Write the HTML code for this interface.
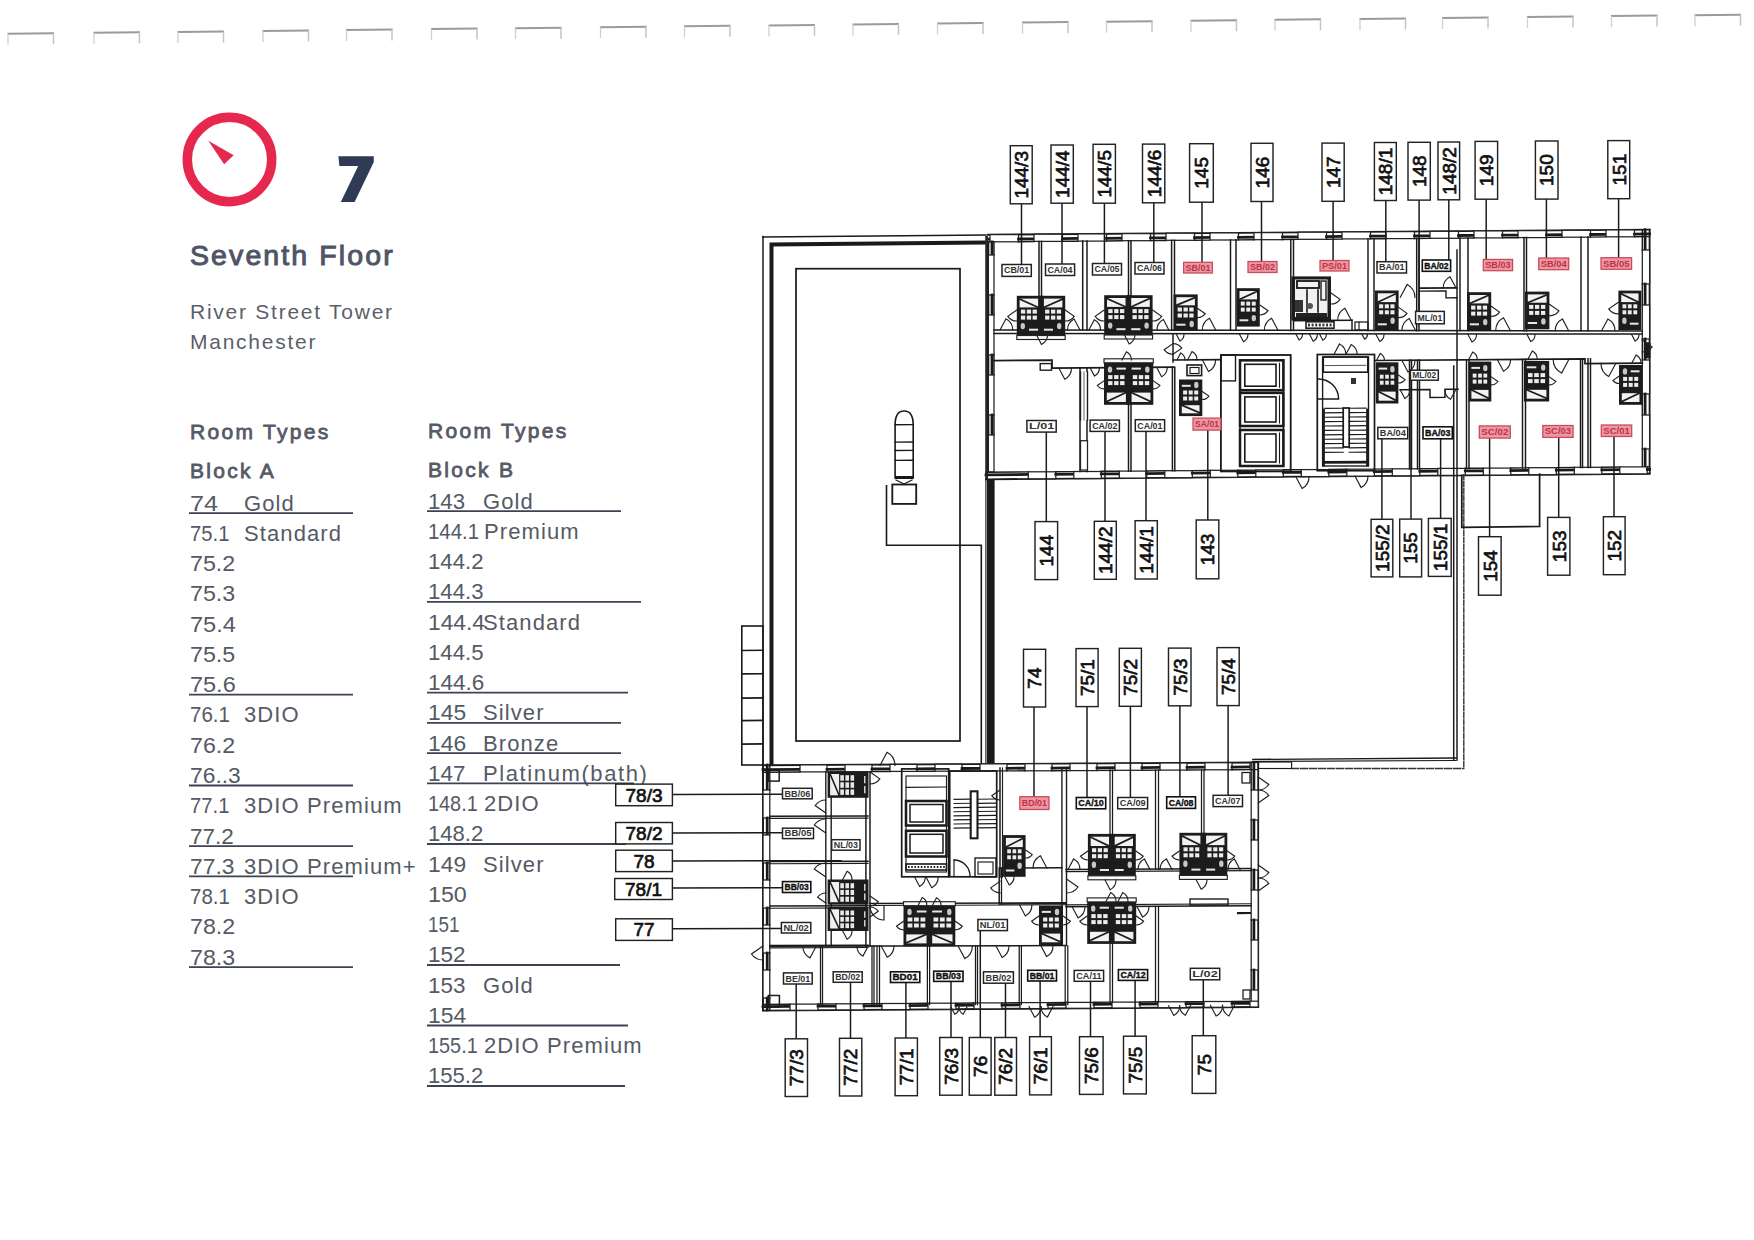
<!DOCTYPE html>
<html><head><meta charset="utf-8"><title>Seventh Floor</title><style>
html,body{margin:0;padding:0;background:#fff;width:1754px;height:1240px;overflow:hidden}
svg{position:absolute;left:0;top:0;display:block}
text{font-family:"Liberation Sans",sans-serif}
.lb{font-size:19px;fill:#111;stroke:#111;stroke-width:0.7px}
.h1{font-size:28.5px;font-weight:normal;fill:#4f5566;stroke:#4f5566;stroke-width:1.0px;letter-spacing:2.1px}
.h2{font-size:21px;fill:#5b5f69;letter-spacing:1.75px}
.lh{font-size:21px;font-weight:normal;fill:#555a66;stroke:#555a66;stroke-width:0.8px;letter-spacing:2.3px}
.lt{font-size:22px;fill:#555a64;letter-spacing:1.1px}
.ln{font-size:22px;fill:#555a64;letter-spacing:0px}
</style></head>
<body><svg width="1754" height="1240" viewBox="0 0 1754 1240">
<rect width="1754" height="1240" fill="#fff"/>
<line x1="7.5" y1="33.7" x2="54.0" y2="33.2" stroke="#9a9a9a" stroke-width="2"/>
<line x1="8.0" y1="33.7" x2="8.0" y2="44.7" stroke="#d0d0d0" stroke-width="1.3"/>
<line x1="53.5" y1="33.2" x2="53.5" y2="44.2" stroke="#c4c4c4" stroke-width="1.5"/>
<line x1="93.5" y1="32.8" x2="140.0" y2="32.3" stroke="#9a9a9a" stroke-width="2"/>
<line x1="94.0" y1="32.8" x2="94.0" y2="43.8" stroke="#d0d0d0" stroke-width="1.3"/>
<line x1="139.5" y1="32.3" x2="139.5" y2="43.3" stroke="#c4c4c4" stroke-width="1.5"/>
<line x1="177.5" y1="31.9" x2="224.0" y2="31.4" stroke="#9a9a9a" stroke-width="2"/>
<line x1="178.0" y1="31.9" x2="178.0" y2="42.9" stroke="#d0d0d0" stroke-width="1.3"/>
<line x1="223.5" y1="31.4" x2="223.5" y2="42.4" stroke="#c4c4c4" stroke-width="1.5"/>
<line x1="262.5" y1="30.9" x2="309.0" y2="30.4" stroke="#9a9a9a" stroke-width="2"/>
<line x1="263.0" y1="30.9" x2="263.0" y2="41.9" stroke="#d0d0d0" stroke-width="1.3"/>
<line x1="308.5" y1="30.4" x2="308.5" y2="41.4" stroke="#c4c4c4" stroke-width="1.5"/>
<line x1="346.0" y1="30.0" x2="392.5" y2="29.5" stroke="#9a9a9a" stroke-width="2"/>
<line x1="346.5" y1="30.0" x2="346.5" y2="41.0" stroke="#d0d0d0" stroke-width="1.3"/>
<line x1="392.0" y1="29.5" x2="392.0" y2="40.5" stroke="#c4c4c4" stroke-width="1.5"/>
<line x1="431.0" y1="29.1" x2="477.5" y2="28.6" stroke="#9a9a9a" stroke-width="2"/>
<line x1="431.5" y1="29.1" x2="431.5" y2="40.1" stroke="#d0d0d0" stroke-width="1.3"/>
<line x1="477.0" y1="28.6" x2="477.0" y2="39.6" stroke="#c4c4c4" stroke-width="1.5"/>
<line x1="515.0" y1="28.2" x2="561.5" y2="27.7" stroke="#9a9a9a" stroke-width="2"/>
<line x1="515.5" y1="28.2" x2="515.5" y2="39.2" stroke="#d0d0d0" stroke-width="1.3"/>
<line x1="561.0" y1="27.7" x2="561.0" y2="38.7" stroke="#c4c4c4" stroke-width="1.5"/>
<line x1="600.0" y1="27.2" x2="646.5" y2="26.7" stroke="#9a9a9a" stroke-width="2"/>
<line x1="600.5" y1="27.2" x2="600.5" y2="38.2" stroke="#d0d0d0" stroke-width="1.3"/>
<line x1="646.0" y1="26.7" x2="646.0" y2="37.7" stroke="#c4c4c4" stroke-width="1.5"/>
<line x1="684.0" y1="26.3" x2="730.5" y2="25.8" stroke="#9a9a9a" stroke-width="2"/>
<line x1="684.5" y1="26.3" x2="684.5" y2="37.3" stroke="#d0d0d0" stroke-width="1.3"/>
<line x1="730.0" y1="25.8" x2="730.0" y2="36.8" stroke="#c4c4c4" stroke-width="1.5"/>
<line x1="768.5" y1="25.4" x2="815.0" y2="24.9" stroke="#9a9a9a" stroke-width="2"/>
<line x1="769.0" y1="25.4" x2="769.0" y2="36.4" stroke="#d0d0d0" stroke-width="1.3"/>
<line x1="814.5" y1="24.9" x2="814.5" y2="35.9" stroke="#c4c4c4" stroke-width="1.5"/>
<line x1="852.5" y1="24.5" x2="899.0" y2="23.9" stroke="#9a9a9a" stroke-width="2"/>
<line x1="853.0" y1="24.5" x2="853.0" y2="35.5" stroke="#d0d0d0" stroke-width="1.3"/>
<line x1="898.5" y1="23.9" x2="898.5" y2="34.9" stroke="#c4c4c4" stroke-width="1.5"/>
<line x1="937.0" y1="23.5" x2="983.5" y2="23.0" stroke="#9a9a9a" stroke-width="2"/>
<line x1="937.5" y1="23.5" x2="937.5" y2="34.5" stroke="#d0d0d0" stroke-width="1.3"/>
<line x1="983.0" y1="23.0" x2="983.0" y2="34.0" stroke="#c4c4c4" stroke-width="1.5"/>
<line x1="1022.0" y1="22.6" x2="1068.5" y2="22.1" stroke="#9a9a9a" stroke-width="2"/>
<line x1="1022.5" y1="22.6" x2="1022.5" y2="33.6" stroke="#d0d0d0" stroke-width="1.3"/>
<line x1="1068.0" y1="22.1" x2="1068.0" y2="33.1" stroke="#c4c4c4" stroke-width="1.5"/>
<line x1="1106.0" y1="21.7" x2="1152.5" y2="21.2" stroke="#9a9a9a" stroke-width="2"/>
<line x1="1106.5" y1="21.7" x2="1106.5" y2="32.7" stroke="#d0d0d0" stroke-width="1.3"/>
<line x1="1152.0" y1="21.2" x2="1152.0" y2="32.2" stroke="#c4c4c4" stroke-width="1.5"/>
<line x1="1190.5" y1="20.7" x2="1237.0" y2="20.2" stroke="#9a9a9a" stroke-width="2"/>
<line x1="1191.0" y1="20.7" x2="1191.0" y2="31.7" stroke="#d0d0d0" stroke-width="1.3"/>
<line x1="1236.5" y1="20.2" x2="1236.5" y2="31.2" stroke="#c4c4c4" stroke-width="1.5"/>
<line x1="1274.5" y1="19.8" x2="1321.0" y2="19.3" stroke="#9a9a9a" stroke-width="2"/>
<line x1="1275.0" y1="19.8" x2="1275.0" y2="30.8" stroke="#d0d0d0" stroke-width="1.3"/>
<line x1="1320.5" y1="19.3" x2="1320.5" y2="30.3" stroke="#c4c4c4" stroke-width="1.5"/>
<line x1="1359.5" y1="18.9" x2="1406.0" y2="18.4" stroke="#9a9a9a" stroke-width="2"/>
<line x1="1360.0" y1="18.9" x2="1360.0" y2="29.9" stroke="#d0d0d0" stroke-width="1.3"/>
<line x1="1405.5" y1="18.4" x2="1405.5" y2="29.4" stroke="#c4c4c4" stroke-width="1.5"/>
<line x1="1442.0" y1="18.0" x2="1488.5" y2="17.5" stroke="#9a9a9a" stroke-width="2"/>
<line x1="1442.5" y1="18.0" x2="1442.5" y2="29.0" stroke="#d0d0d0" stroke-width="1.3"/>
<line x1="1488.0" y1="17.5" x2="1488.0" y2="28.5" stroke="#c4c4c4" stroke-width="1.5"/>
<line x1="1527.0" y1="17.0" x2="1573.5" y2="16.5" stroke="#9a9a9a" stroke-width="2"/>
<line x1="1527.5" y1="17.0" x2="1527.5" y2="28.0" stroke="#d0d0d0" stroke-width="1.3"/>
<line x1="1573.0" y1="16.5" x2="1573.0" y2="27.5" stroke="#c4c4c4" stroke-width="1.5"/>
<line x1="1611.0" y1="16.1" x2="1657.5" y2="15.6" stroke="#9a9a9a" stroke-width="2"/>
<line x1="1611.5" y1="16.1" x2="1611.5" y2="27.1" stroke="#d0d0d0" stroke-width="1.3"/>
<line x1="1657.0" y1="15.6" x2="1657.0" y2="26.6" stroke="#c4c4c4" stroke-width="1.5"/>
<line x1="1694.5" y1="15.2" x2="1741.0" y2="14.7" stroke="#9a9a9a" stroke-width="2"/>
<line x1="1695.0" y1="15.2" x2="1695.0" y2="26.2" stroke="#d0d0d0" stroke-width="1.3"/>
<line x1="1740.5" y1="14.7" x2="1740.5" y2="25.7" stroke="#c4c4c4" stroke-width="1.5"/>
<circle cx="229.5" cy="159.5" r="42.2" stroke="#e6284e" stroke-width="9.5" fill="none"/>
<polygon points="208.3,140.7 233.7,155.3 224.1,164.3" fill="#e4294d"/>
<polygon points="338.4,156.2 373.8,156.2 373.8,162 354.6,202 340.8,202 358.2,166 339.4,166" fill="#2f3a55"/>
<text x="190" y="265" class="h1">Seventh Floor</text>
<text x="190" y="319" class="h2">River Street Tower</text>
<text x="190" y="349" class="h2">Manchester</text>
<text x="190" y="439" class="lh">Room Types</text>
<text x="190" y="478" class="lh">Block A</text>
<text x="428" y="437.5" class="lh">Room Types</text>
<text x="428" y="476.5" class="lh">Block B</text>
<text x="190" y="510.5" class="ln" textLength="28.1" lengthAdjust="spacingAndGlyphs">74</text>
<text x="244" y="510.5" class="lt">Gold</text>
<line x1="189" y1="513.1" x2="353" y2="513.1" stroke="#3d4352" stroke-width="1.8"/>
<text x="190" y="540.8" class="ln" textLength="39.4" lengthAdjust="spacingAndGlyphs">75.1</text>
<text x="244" y="540.8" class="lt">Standard</text>
<text x="190" y="571.0" class="ln" textLength="45.2" lengthAdjust="spacingAndGlyphs">75.2</text>
<text x="190" y="601.3" class="ln" textLength="45.2" lengthAdjust="spacingAndGlyphs">75.3</text>
<text x="190" y="631.6" class="ln" textLength="45.9" lengthAdjust="spacingAndGlyphs">75.4</text>
<text x="190" y="661.9" class="ln" textLength="45.2" lengthAdjust="spacingAndGlyphs">75.5</text>
<text x="190" y="692.1" class="ln" textLength="45.7" lengthAdjust="spacingAndGlyphs">75.6</text>
<line x1="189" y1="694.7" x2="353" y2="694.7" stroke="#3d4352" stroke-width="1.8"/>
<text x="190" y="722.4" class="ln" textLength="39.9" lengthAdjust="spacingAndGlyphs">76.1</text>
<text x="244" y="722.4" class="lt">3DIO</text>
<text x="190" y="752.7" class="ln" textLength="45.2" lengthAdjust="spacingAndGlyphs">76.2</text>
<text x="190" y="782.9" class="ln" textLength="50.8" lengthAdjust="spacingAndGlyphs">76..3</text>
<line x1="189" y1="785.5" x2="353" y2="785.5" stroke="#3d4352" stroke-width="1.8"/>
<text x="190" y="813.2" class="ln" textLength="39.4" lengthAdjust="spacingAndGlyphs">77.1</text>
<text x="244" y="813.2" class="lt">3DIO Premium</text>
<text x="190" y="843.5" class="ln" textLength="43.8" lengthAdjust="spacingAndGlyphs">77.2</text>
<line x1="189" y1="846.1" x2="353" y2="846.1" stroke="#3d4352" stroke-width="1.8"/>
<text x="190" y="873.7" class="ln" textLength="44.5" lengthAdjust="spacingAndGlyphs">77.3</text>
<text x="244" y="873.7" class="lt">3DIO Premium+</text>
<line x1="189" y1="876.3" x2="353" y2="876.3" stroke="#3d4352" stroke-width="1.8"/>
<text x="190" y="904.0" class="ln" textLength="39.9" lengthAdjust="spacingAndGlyphs">78.1</text>
<text x="244" y="904.0" class="lt">3DIO</text>
<text x="190" y="934.3" class="ln" textLength="45.2" lengthAdjust="spacingAndGlyphs">78.2</text>
<text x="190" y="964.5" class="ln" textLength="45.2" lengthAdjust="spacingAndGlyphs">78.3</text>
<line x1="189" y1="967.1" x2="353" y2="967.1" stroke="#3d4352" stroke-width="1.8"/>
<text x="428" y="508.5" class="ln" textLength="37.0" lengthAdjust="spacingAndGlyphs">143</text>
<text x="483" y="508.5" class="lt">Gold</text>
<line x1="427" y1="511.1" x2="621" y2="511.1" stroke="#3d4352" stroke-width="1.8"/>
<text x="428" y="538.8" class="ln" textLength="51.0" lengthAdjust="spacingAndGlyphs">144.1</text>
<text x="484" y="538.8" class="lt">Premium</text>
<text x="428" y="569.0" class="ln" textLength="55.5" lengthAdjust="spacingAndGlyphs">144.2</text>
<text x="428" y="599.3" class="ln" textLength="55.5" lengthAdjust="spacingAndGlyphs">144.3</text>
<line x1="427" y1="601.9" x2="641" y2="601.9" stroke="#3d4352" stroke-width="1.8"/>
<text x="428" y="629.5" class="ln" textLength="56.9" lengthAdjust="spacingAndGlyphs">144.4</text>
<text x="483" y="629.5" class="lt">Standard</text>
<text x="428" y="659.8" class="ln" textLength="55.5" lengthAdjust="spacingAndGlyphs">144.5</text>
<text x="428" y="690.1" class="ln" textLength="56.2" lengthAdjust="spacingAndGlyphs">144.6</text>
<line x1="427" y1="692.7" x2="628" y2="692.7" stroke="#3d4352" stroke-width="1.8"/>
<text x="428" y="720.3" class="ln" textLength="38.1" lengthAdjust="spacingAndGlyphs">145</text>
<text x="483" y="720.3" class="lt">Silver</text>
<line x1="427" y1="722.9" x2="621" y2="722.9" stroke="#3d4352" stroke-width="1.8"/>
<text x="428" y="750.6" class="ln" textLength="38.1" lengthAdjust="spacingAndGlyphs">146</text>
<text x="483" y="750.6" class="lt">Bronze</text>
<line x1="427" y1="753.2" x2="621" y2="753.2" stroke="#3d4352" stroke-width="1.8"/>
<text x="428" y="780.8" class="ln" textLength="37.4" lengthAdjust="spacingAndGlyphs">147</text>
<text x="483" y="780.8" class="lt" style="letter-spacing:1.6px">Platinum(bath)</text>
<line x1="427" y1="783.4" x2="634" y2="783.4" stroke="#3d4352" stroke-width="1.8"/>
<text x="428" y="811.1" class="ln" textLength="49.7" lengthAdjust="spacingAndGlyphs">148.1</text>
<text x="484" y="811.1" class="lt">2DIO</text>
<text x="428" y="841.4" class="ln" textLength="55.3" lengthAdjust="spacingAndGlyphs">148.2</text>
<line x1="427" y1="844.0" x2="626" y2="844.0" stroke="#3d4352" stroke-width="1.8"/>
<text x="428" y="871.6" class="ln" textLength="38.1" lengthAdjust="spacingAndGlyphs">149</text>
<text x="483" y="871.6" class="lt">Silver</text>
<text x="428" y="901.9" class="ln" textLength="38.8" lengthAdjust="spacingAndGlyphs">150</text>
<text x="428" y="932.1" class="ln" textLength="31.5" lengthAdjust="spacingAndGlyphs">151</text>
<text x="428" y="962.4" class="ln" textLength="37.4" lengthAdjust="spacingAndGlyphs">152</text>
<line x1="427" y1="965.0" x2="620" y2="965.0" stroke="#3d4352" stroke-width="1.8"/>
<text x="428" y="992.7" class="ln" textLength="37.4" lengthAdjust="spacingAndGlyphs">153</text>
<text x="483" y="992.7" class="lt">Gold</text>
<text x="428" y="1022.9" class="ln" textLength="38.1" lengthAdjust="spacingAndGlyphs">154</text>
<line x1="427" y1="1025.5" x2="628" y2="1025.5" stroke="#3d4352" stroke-width="1.8"/>
<text x="428" y="1053.2" class="ln" textLength="49.7" lengthAdjust="spacingAndGlyphs">155.1</text>
<text x="484" y="1053.2" class="lt">2DIO Premium</text>
<text x="428" y="1083.4" class="ln" textLength="55.3" lengthAdjust="spacingAndGlyphs">155.2</text>
<line x1="427" y1="1086.0" x2="625" y2="1086.0" stroke="#3d4352" stroke-width="1.8"/>
<g stroke-linecap="square">
<line x1="763.0" y1="236.5" x2="763.0" y2="1010.5" stroke="#1a1a1a" stroke-width="1.49" />
<line x1="763.0" y1="237.0" x2="986.0" y2="235.0" stroke="#1a1a1a" stroke-width="1.61" />
<path d="M771.5,765 L771.5,244.4 L986,242.6" stroke="#1a1a1a" stroke-width="4" fill="none" stroke-linejoin="miter" stroke-linecap="butt"/>
<rect x="796.0" y="268.7" width="164.0" height="472.3" stroke="#1a1a1a" stroke-width="1.72" fill="none" />
<rect x="741.8" y="626.0" width="21.2" height="139.0" stroke="#1a1a1a" stroke-width="1.61" fill="none" />
<line x1="741.8" y1="650.5" x2="763.0" y2="650.3" stroke="#1a1a1a" stroke-width="1.61" />
<line x1="741.8" y1="673.9" x2="763.0" y2="673.7" stroke="#1a1a1a" stroke-width="1.61" />
<line x1="741.8" y1="698.1" x2="763.0" y2="697.9" stroke="#1a1a1a" stroke-width="1.61" />
<line x1="741.8" y1="720.6" x2="763.0" y2="720.4" stroke="#1a1a1a" stroke-width="1.61" />
<line x1="741.8" y1="744.1" x2="763.0" y2="743.9" stroke="#1a1a1a" stroke-width="1.61" />
<path d="M895.1,425 L895.1,478 L913.2,478 L913.2,425 Q913.2,411 904.1,411 Q895.1,411 895.1,425 Z" stroke="#1a1a1a" stroke-width="1.61" fill="none"/>
<line x1="895.1" y1="424.7" x2="913.2" y2="424.6" stroke="#1a1a1a" stroke-width="1.38" />
<line x1="895.1" y1="442.1" x2="913.2" y2="442.0" stroke="#1a1a1a" stroke-width="1.38" />
<line x1="895.1" y1="450.5" x2="913.2" y2="450.4" stroke="#1a1a1a" stroke-width="1.38" />
<line x1="895.1" y1="460.4" x2="913.2" y2="460.3" stroke="#1a1a1a" stroke-width="1.38" />
<rect x="895.1" y="476.0" width="18.1" height="3.0" stroke="none" stroke-width="0.00" fill="#1a1a1a" />
<rect x="892.3" y="484.5" width="23.9" height="19.4" stroke="#1a1a1a" stroke-width="1.84" fill="none" />
<line x1="896.0" y1="480.0" x2="904.0" y2="484.0" stroke="#1a1a1a" stroke-width="1.15" />
<line x1="912.0" y1="480.0" x2="904.0" y2="484.0" stroke="#1a1a1a" stroke-width="1.15" />
<path d="M886.5,485.8 L886.5,545.2 L981.3,545.2 L981.3,763.5" stroke="#1a1a1a" stroke-width="1.61" fill="none"/>
<rect x="987.0" y="479.0" width="7.6" height="286.0" stroke="none" stroke-width="0.00" fill="#1a1a1a" />
<line x1="985.9" y1="479.0" x2="985.9" y2="765.0" stroke="#1a1a1a" stroke-width="1.15" />
<line x1="988.0" y1="234.7" x2="1649.6" y2="229.7" stroke="#1a1a1a" stroke-width="1.84" />
<line x1="988.0" y1="239.2" x2="990.0" y2="239.2" stroke="#1a1a1a" stroke-width="2.76" />
<line x1="988.0" y1="241.9" x2="990.0" y2="241.9" stroke="#1a1a1a" stroke-width="1.38" />
<rect x="990.0" y="234.6" width="28.5" height="7.2" stroke="#222" stroke-width="1.26" fill="#fff" />
<line x1="1018.5" y1="239.0" x2="1034.0" y2="238.8" stroke="#1a1a1a" stroke-width="2.76" />
<line x1="1018.5" y1="241.7" x2="1034.0" y2="241.5" stroke="#1a1a1a" stroke-width="1.38" />
<rect x="1034.0" y="234.2" width="28.5" height="7.2" stroke="#222" stroke-width="1.26" fill="#fff" />
<line x1="1062.5" y1="238.6" x2="1078.0" y2="238.5" stroke="#1a1a1a" stroke-width="2.76" />
<line x1="1062.5" y1="241.3" x2="1078.0" y2="241.2" stroke="#1a1a1a" stroke-width="1.38" />
<rect x="1078.0" y="233.9" width="28.5" height="7.2" stroke="#222" stroke-width="1.26" fill="#fff" />
<line x1="1106.5" y1="238.3" x2="1122.0" y2="238.2" stroke="#1a1a1a" stroke-width="2.76" />
<line x1="1106.5" y1="241.0" x2="1122.0" y2="240.8" stroke="#1a1a1a" stroke-width="1.38" />
<rect x="1122.0" y="233.6" width="28.5" height="7.1" stroke="#222" stroke-width="1.26" fill="#fff" />
<line x1="1150.5" y1="237.9" x2="1166.0" y2="237.8" stroke="#1a1a1a" stroke-width="2.76" />
<line x1="1150.5" y1="240.6" x2="1166.0" y2="240.5" stroke="#1a1a1a" stroke-width="1.38" />
<rect x="1166.0" y="233.2" width="28.5" height="7.1" stroke="#222" stroke-width="1.26" fill="#fff" />
<line x1="1194.5" y1="237.6" x2="1210.0" y2="237.5" stroke="#1a1a1a" stroke-width="2.76" />
<line x1="1194.5" y1="240.2" x2="1210.0" y2="240.1" stroke="#1a1a1a" stroke-width="1.38" />
<rect x="1210.0" y="232.9" width="28.5" height="7.1" stroke="#222" stroke-width="1.26" fill="#fff" />
<line x1="1238.5" y1="237.3" x2="1254.0" y2="237.1" stroke="#1a1a1a" stroke-width="2.76" />
<line x1="1238.5" y1="239.9" x2="1254.0" y2="239.8" stroke="#1a1a1a" stroke-width="1.38" />
<rect x="1254.0" y="232.6" width="28.5" height="7.1" stroke="#222" stroke-width="1.26" fill="#fff" />
<line x1="1282.5" y1="236.9" x2="1298.0" y2="236.8" stroke="#1a1a1a" stroke-width="2.76" />
<line x1="1282.5" y1="239.5" x2="1298.0" y2="239.4" stroke="#1a1a1a" stroke-width="1.38" />
<rect x="1298.0" y="232.2" width="28.5" height="7.1" stroke="#222" stroke-width="1.26" fill="#fff" />
<line x1="1326.5" y1="236.6" x2="1342.0" y2="236.4" stroke="#1a1a1a" stroke-width="2.76" />
<line x1="1326.5" y1="239.2" x2="1342.0" y2="239.1" stroke="#1a1a1a" stroke-width="1.38" />
<rect x="1342.0" y="231.9" width="28.5" height="7.0" stroke="#222" stroke-width="1.26" fill="#fff" />
<line x1="1370.5" y1="236.2" x2="1386.0" y2="236.1" stroke="#1a1a1a" stroke-width="2.76" />
<line x1="1370.5" y1="238.8" x2="1386.0" y2="238.7" stroke="#1a1a1a" stroke-width="1.38" />
<rect x="1386.0" y="231.6" width="28.5" height="7.0" stroke="#222" stroke-width="1.26" fill="#fff" />
<line x1="1414.5" y1="235.9" x2="1430.0" y2="235.8" stroke="#1a1a1a" stroke-width="2.76" />
<line x1="1414.5" y1="238.5" x2="1430.0" y2="238.4" stroke="#1a1a1a" stroke-width="1.38" />
<rect x="1430.0" y="231.3" width="28.5" height="7.0" stroke="#222" stroke-width="1.26" fill="#fff" />
<line x1="1458.5" y1="235.5" x2="1474.0" y2="235.4" stroke="#1a1a1a" stroke-width="2.76" />
<line x1="1458.5" y1="238.1" x2="1474.0" y2="238.0" stroke="#1a1a1a" stroke-width="1.38" />
<rect x="1474.0" y="230.9" width="28.5" height="7.0" stroke="#222" stroke-width="1.26" fill="#fff" />
<line x1="1502.5" y1="235.2" x2="1518.0" y2="235.1" stroke="#1a1a1a" stroke-width="2.76" />
<line x1="1502.5" y1="237.8" x2="1518.0" y2="237.7" stroke="#1a1a1a" stroke-width="1.38" />
<rect x="1518.0" y="230.6" width="28.5" height="7.0" stroke="#222" stroke-width="1.26" fill="#fff" />
<line x1="1546.5" y1="234.9" x2="1562.0" y2="234.7" stroke="#1a1a1a" stroke-width="2.76" />
<line x1="1546.5" y1="237.4" x2="1562.0" y2="237.3" stroke="#1a1a1a" stroke-width="1.38" />
<rect x="1562.0" y="230.3" width="28.5" height="6.9" stroke="#222" stroke-width="1.26" fill="#fff" />
<line x1="1590.5" y1="234.5" x2="1606.0" y2="234.4" stroke="#1a1a1a" stroke-width="2.76" />
<line x1="1590.5" y1="237.1" x2="1606.0" y2="236.9" stroke="#1a1a1a" stroke-width="1.38" />
<rect x="1606.0" y="229.9" width="28.5" height="6.9" stroke="#222" stroke-width="1.26" fill="#fff" />
<line x1="1634.5" y1="234.2" x2="1649.6" y2="234.0" stroke="#1a1a1a" stroke-width="2.76" />
<line x1="1634.5" y1="236.7" x2="1649.6" y2="236.6" stroke="#1a1a1a" stroke-width="1.38" />
<rect x="985.2" y="236.0" width="2.8" height="243.0" stroke="none" stroke-width="0.00" fill="#2a2a2a" />
<line x1="988.4" y1="241.9" x2="988.4" y2="472.0" stroke="#1a1a1a" stroke-width="1.84" />
<line x1="992.0" y1="241.9" x2="992.0" y2="255.0" stroke="#1a1a1a" stroke-width="2.76" />
<line x1="994.0" y1="241.9" x2="994.0" y2="255.0" stroke="#1a1a1a" stroke-width="1.38" />
<rect x="988.4" y="255.0" width="5.6" height="40.0" stroke="#222" stroke-width="1.26" fill="#fff" />
<line x1="992.0" y1="295.0" x2="992.0" y2="315.0" stroke="#1a1a1a" stroke-width="2.76" />
<line x1="994.0" y1="295.0" x2="994.0" y2="315.0" stroke="#1a1a1a" stroke-width="1.38" />
<rect x="988.4" y="315.0" width="5.6" height="40.0" stroke="#222" stroke-width="1.26" fill="#fff" />
<line x1="992.0" y1="355.0" x2="992.0" y2="375.0" stroke="#1a1a1a" stroke-width="2.76" />
<line x1="994.0" y1="355.0" x2="994.0" y2="375.0" stroke="#1a1a1a" stroke-width="1.38" />
<rect x="988.4" y="375.0" width="5.6" height="40.0" stroke="#222" stroke-width="1.26" fill="#fff" />
<line x1="992.0" y1="415.0" x2="992.0" y2="435.0" stroke="#1a1a1a" stroke-width="2.76" />
<line x1="994.0" y1="415.0" x2="994.0" y2="435.0" stroke="#1a1a1a" stroke-width="1.38" />
<rect x="988.4" y="435.0" width="5.6" height="37.0" stroke="#222" stroke-width="1.26" fill="#fff" />
<line x1="1649.6" y1="229.7" x2="1649.6" y2="473.4" stroke="#1a1a1a" stroke-width="1.84" />
<line x1="1645.1" y1="229.7" x2="1645.1" y2="250.0" stroke="#1a1a1a" stroke-width="2.76" />
<line x1="1642.3" y1="229.7" x2="1642.3" y2="250.0" stroke="#1a1a1a" stroke-width="1.38" />
<rect x="1642.3" y="250.0" width="7.3" height="34.0" stroke="#222" stroke-width="1.26" fill="#fff" />
<line x1="1645.1" y1="284.0" x2="1645.1" y2="305.0" stroke="#1a1a1a" stroke-width="2.76" />
<line x1="1642.3" y1="284.0" x2="1642.3" y2="305.0" stroke="#1a1a1a" stroke-width="1.38" />
<rect x="1642.3" y="305.0" width="7.3" height="34.0" stroke="#222" stroke-width="1.26" fill="#fff" />
<line x1="1645.1" y1="339.0" x2="1645.1" y2="360.0" stroke="#1a1a1a" stroke-width="2.76" />
<line x1="1642.3" y1="339.0" x2="1642.3" y2="360.0" stroke="#1a1a1a" stroke-width="1.38" />
<rect x="1642.3" y="360.0" width="7.3" height="34.0" stroke="#222" stroke-width="1.26" fill="#fff" />
<line x1="1645.1" y1="394.0" x2="1645.1" y2="415.0" stroke="#1a1a1a" stroke-width="2.76" />
<line x1="1642.3" y1="394.0" x2="1642.3" y2="415.0" stroke="#1a1a1a" stroke-width="1.38" />
<rect x="1642.3" y="415.0" width="7.3" height="34.0" stroke="#222" stroke-width="1.26" fill="#fff" />
<line x1="1645.1" y1="449.0" x2="1645.1" y2="470.0" stroke="#1a1a1a" stroke-width="2.76" />
<line x1="1642.3" y1="449.0" x2="1642.3" y2="470.0" stroke="#1a1a1a" stroke-width="1.38" />
<rect x="1642.3" y="470.0" width="7.3" height="3.4" stroke="#222" stroke-width="1.26" fill="#fff" />
<rect x="1646.0" y="342.3" width="4.5" height="16.0" stroke="none" stroke-width="0.00" fill="#1a1a1a" />
<line x1="986.0" y1="479.3" x2="1649.6" y2="473.8" stroke="#1a1a1a" stroke-width="1.84" />
<line x1="986.0" y1="474.9" x2="1028.3" y2="474.5" stroke="#1a1a1a" stroke-width="2.76" />
<line x1="986.0" y1="472.3" x2="1028.3" y2="471.9" stroke="#1a1a1a" stroke-width="1.38" />
<rect x="1028.3" y="471.8" width="27.5" height="7.0" stroke="#222" stroke-width="1.26" fill="#fff" />
<line x1="1055.8" y1="474.3" x2="1073.8" y2="474.2" stroke="#1a1a1a" stroke-width="2.76" />
<line x1="1055.8" y1="471.7" x2="1073.8" y2="471.6" stroke="#1a1a1a" stroke-width="1.38" />
<rect x="1073.8" y="471.5" width="27.5" height="7.0" stroke="#222" stroke-width="1.26" fill="#fff" />
<line x1="1101.3" y1="473.9" x2="1119.3" y2="473.8" stroke="#1a1a1a" stroke-width="2.76" />
<line x1="1101.3" y1="471.3" x2="1119.3" y2="471.2" stroke="#1a1a1a" stroke-width="1.38" />
<rect x="1119.3" y="471.1" width="27.5" height="7.0" stroke="#222" stroke-width="1.26" fill="#fff" />
<line x1="1146.8" y1="473.6" x2="1164.8" y2="473.4" stroke="#1a1a1a" stroke-width="2.76" />
<line x1="1146.8" y1="471.0" x2="1164.8" y2="470.8" stroke="#1a1a1a" stroke-width="1.38" />
<rect x="1164.8" y="470.7" width="27.5" height="7.0" stroke="#222" stroke-width="1.26" fill="#fff" />
<line x1="1192.3" y1="473.2" x2="1210.3" y2="473.0" stroke="#1a1a1a" stroke-width="2.76" />
<line x1="1192.3" y1="470.6" x2="1210.3" y2="470.4" stroke="#1a1a1a" stroke-width="1.38" />
<rect x="1210.3" y="470.3" width="27.5" height="7.0" stroke="#222" stroke-width="1.26" fill="#fff" />
<line x1="1237.8" y1="472.8" x2="1255.8" y2="472.7" stroke="#1a1a1a" stroke-width="2.76" />
<line x1="1237.8" y1="470.2" x2="1255.8" y2="470.1" stroke="#1a1a1a" stroke-width="1.38" />
<rect x="1255.8" y="469.9" width="27.5" height="7.0" stroke="#222" stroke-width="1.26" fill="#fff" />
<line x1="1283.3" y1="472.4" x2="1301.3" y2="472.3" stroke="#1a1a1a" stroke-width="2.76" />
<line x1="1283.3" y1="469.8" x2="1301.3" y2="469.7" stroke="#1a1a1a" stroke-width="1.38" />
<rect x="1301.3" y="469.6" width="27.5" height="7.0" stroke="#222" stroke-width="1.26" fill="#fff" />
<line x1="1328.8" y1="472.1" x2="1346.8" y2="471.9" stroke="#1a1a1a" stroke-width="2.76" />
<line x1="1328.8" y1="469.5" x2="1346.8" y2="469.3" stroke="#1a1a1a" stroke-width="1.38" />
<rect x="1346.8" y="469.2" width="27.5" height="7.0" stroke="#222" stroke-width="1.26" fill="#fff" />
<line x1="1374.3" y1="471.7" x2="1392.3" y2="471.5" stroke="#1a1a1a" stroke-width="2.76" />
<line x1="1374.3" y1="469.1" x2="1392.3" y2="468.9" stroke="#1a1a1a" stroke-width="1.38" />
<rect x="1392.3" y="468.8" width="27.5" height="7.0" stroke="#222" stroke-width="1.26" fill="#fff" />
<line x1="1419.8" y1="471.3" x2="1437.8" y2="471.2" stroke="#1a1a1a" stroke-width="2.76" />
<line x1="1419.8" y1="468.7" x2="1437.8" y2="468.6" stroke="#1a1a1a" stroke-width="1.38" />
<rect x="1437.8" y="468.4" width="27.5" height="7.0" stroke="#222" stroke-width="1.26" fill="#fff" />
<line x1="1465.3" y1="470.9" x2="1483.3" y2="470.8" stroke="#1a1a1a" stroke-width="2.76" />
<line x1="1465.3" y1="468.3" x2="1483.3" y2="468.2" stroke="#1a1a1a" stroke-width="1.38" />
<rect x="1483.3" y="468.1" width="27.5" height="7.0" stroke="#222" stroke-width="1.26" fill="#fff" />
<line x1="1510.8" y1="470.6" x2="1528.8" y2="470.4" stroke="#1a1a1a" stroke-width="2.76" />
<line x1="1510.8" y1="468.0" x2="1528.8" y2="467.8" stroke="#1a1a1a" stroke-width="1.38" />
<rect x="1528.8" y="467.7" width="27.5" height="7.0" stroke="#222" stroke-width="1.26" fill="#fff" />
<line x1="1556.3" y1="470.2" x2="1574.3" y2="470.0" stroke="#1a1a1a" stroke-width="2.76" />
<line x1="1556.3" y1="467.6" x2="1574.3" y2="467.4" stroke="#1a1a1a" stroke-width="1.38" />
<rect x="1574.3" y="467.3" width="27.5" height="7.0" stroke="#222" stroke-width="1.26" fill="#fff" />
<line x1="1601.8" y1="469.8" x2="1619.8" y2="469.6" stroke="#1a1a1a" stroke-width="2.76" />
<line x1="1601.8" y1="467.2" x2="1619.8" y2="467.0" stroke="#1a1a1a" stroke-width="1.38" />
<rect x="1619.8" y="466.9" width="27.5" height="7.0" stroke="#222" stroke-width="1.26" fill="#fff" />
<line x1="1647.3" y1="469.4" x2="1649.6" y2="469.4" stroke="#1a1a1a" stroke-width="2.76" />
<line x1="1647.3" y1="466.8" x2="1649.6" y2="466.8" stroke="#1a1a1a" stroke-width="1.38" />
<line x1="1039.0" y1="241.4" x2="1039.0" y2="330.0" stroke="#1a1a1a" stroke-width="1.49" />
<line x1="1041.5" y1="241.4" x2="1041.5" y2="330.0" stroke="#1a1a1a" stroke-width="1.49" />
<line x1="1082.7" y1="241.0" x2="1082.7" y2="330.0" stroke="#1a1a1a" stroke-width="1.49" />
<line x1="1087.0" y1="241.0" x2="1087.0" y2="330.0" stroke="#1a1a1a" stroke-width="1.49" />
<line x1="1128.5" y1="240.7" x2="1128.5" y2="330.1" stroke="#1a1a1a" stroke-width="1.49" />
<line x1="1131.0" y1="240.7" x2="1131.0" y2="330.1" stroke="#1a1a1a" stroke-width="1.49" />
<line x1="1171.6" y1="240.3" x2="1171.6" y2="330.2" stroke="#1a1a1a" stroke-width="1.49" />
<line x1="1174.5" y1="240.3" x2="1174.5" y2="330.2" stroke="#1a1a1a" stroke-width="1.49" />
<line x1="1230.5" y1="239.9" x2="1230.5" y2="330.3" stroke="#1a1a1a" stroke-width="1.49" />
<line x1="1236.0" y1="239.8" x2="1236.0" y2="330.3" stroke="#1a1a1a" stroke-width="1.49" />
<line x1="1290.8" y1="239.4" x2="1290.8" y2="330.4" stroke="#1a1a1a" stroke-width="1.49" />
<line x1="1293.5" y1="239.4" x2="1293.5" y2="330.4" stroke="#1a1a1a" stroke-width="1.49" />
<line x1="1368.0" y1="238.8" x2="1368.0" y2="330.5" stroke="#1a1a1a" stroke-width="1.49" />
<line x1="1374.0" y1="238.7" x2="1374.0" y2="330.5" stroke="#1a1a1a" stroke-width="1.49" />
<line x1="1416.7" y1="238.4" x2="1416.7" y2="330.6" stroke="#1a1a1a" stroke-width="1.49" />
<line x1="1419.0" y1="238.3" x2="1419.0" y2="330.6" stroke="#1a1a1a" stroke-width="1.49" />
<line x1="1460.0" y1="238.0" x2="1460.0" y2="330.6" stroke="#1a1a1a" stroke-width="1.49" />
<line x1="1468.0" y1="238.0" x2="1468.0" y2="330.6" stroke="#1a1a1a" stroke-width="1.49" />
<line x1="1524.0" y1="237.5" x2="1524.0" y2="330.7" stroke="#1a1a1a" stroke-width="1.49" />
<line x1="1526.5" y1="237.5" x2="1526.5" y2="330.7" stroke="#1a1a1a" stroke-width="1.49" />
<line x1="1581.0" y1="237.1" x2="1581.0" y2="330.8" stroke="#1a1a1a" stroke-width="1.49" />
<line x1="1588.0" y1="237.0" x2="1588.0" y2="330.8" stroke="#1a1a1a" stroke-width="1.49" />
<line x1="994.0" y1="329.9" x2="1642.3" y2="330.9" stroke="#1a1a1a" stroke-width="1.49" />
<line x1="994.0" y1="333.5" x2="1642.3" y2="334.1" stroke="#1a1a1a" stroke-width="1.49" />
<path d="M994,360.6 L1052,360.2 L1052,368.2 L1173.6,367.2" stroke="#1a1a1a" stroke-width="1.72" fill="none"/>
<path d="M1173.6,360.0 L1220.9,359.6" stroke="#1a1a1a" stroke-width="1.72" fill="none"/>
<path d="M1375,360.5 L1585,358.8 L1585,363.6 L1642.3,363.2" stroke="#1a1a1a" stroke-width="1.72" fill="none"/>
<line x1="1080.0" y1="368.0" x2="1080.0" y2="471.6" stroke="#1a1a1a" stroke-width="1.49" />
<line x1="1087.0" y1="367.9" x2="1087.0" y2="471.5" stroke="#1a1a1a" stroke-width="1.49" />
<line x1="1128.5" y1="367.6" x2="1128.5" y2="471.2" stroke="#1a1a1a" stroke-width="1.49" />
<line x1="1131.0" y1="367.6" x2="1131.0" y2="471.2" stroke="#1a1a1a" stroke-width="1.49" />
<line x1="1172.4" y1="367.2" x2="1172.4" y2="470.8" stroke="#1a1a1a" stroke-width="1.49" />
<line x1="1174.8" y1="367.2" x2="1174.8" y2="470.8" stroke="#1a1a1a" stroke-width="1.49" />
<line x1="1409.5" y1="360.2" x2="1409.5" y2="468.9" stroke="#1a1a1a" stroke-width="1.49" />
<line x1="1411.5" y1="360.2" x2="1411.5" y2="468.9" stroke="#1a1a1a" stroke-width="1.49" />
<line x1="1417.5" y1="360.2" x2="1417.5" y2="468.9" stroke="#1a1a1a" stroke-width="1.49" />
<line x1="1419.5" y1="360.1" x2="1419.5" y2="468.8" stroke="#1a1a1a" stroke-width="1.49" />
<line x1="1466.5" y1="359.8" x2="1466.5" y2="468.5" stroke="#1a1a1a" stroke-width="1.49" />
<line x1="1469.0" y1="359.7" x2="1469.0" y2="468.4" stroke="#1a1a1a" stroke-width="1.49" />
<line x1="1522.5" y1="359.3" x2="1522.5" y2="468.0" stroke="#1a1a1a" stroke-width="1.49" />
<line x1="1525.5" y1="359.3" x2="1525.5" y2="468.0" stroke="#1a1a1a" stroke-width="1.49" />
<line x1="1580.5" y1="358.9" x2="1580.5" y2="467.6" stroke="#1a1a1a" stroke-width="1.49" />
<line x1="1582.5" y1="358.8" x2="1582.5" y2="467.5" stroke="#1a1a1a" stroke-width="1.49" />
<line x1="1588.0" y1="358.8" x2="1588.0" y2="467.5" stroke="#1a1a1a" stroke-width="1.49" />
<line x1="1590.5" y1="358.8" x2="1590.5" y2="467.5" stroke="#1a1a1a" stroke-width="1.49" />
<rect x="1040.2" y="363.6" width="11.3" height="6.6" stroke="#1a1a1a" stroke-width="1.38" fill="none" />
<rect x="1080.5" y="440.7" width="7.0" height="29.3" stroke="#222" stroke-width="1.26" fill="#fff" />
<rect x="1080.5" y="372.0" width="7.0" height="48.0" stroke="none" stroke-width="0.00" fill="#fff" />
<line x1="1080.5" y1="372.0" x2="1080.5" y2="420.0" stroke="#1a1a1a" stroke-width="1.38" />
<line x1="1087.5" y1="372.0" x2="1087.5" y2="420.0" stroke="#1a1a1a" stroke-width="1.38" />
<line x1="1084.0" y1="372.0" x2="1084.0" y2="420.0" stroke="#555" stroke-width="0.92" />
<line x1="1453.7" y1="366.0" x2="1453.7" y2="760.0" stroke="#1a1a1a" stroke-width="1.49" />
<line x1="1457.0" y1="250.0" x2="1457.0" y2="760.0" stroke="#1a1a1a" stroke-width="1.49" />
<rect x="1220.9" y="355.0" width="69.8" height="116.4" stroke="#1a1a1a" stroke-width="1.84" fill="none" />
<rect x="1221.0" y="355.0" width="14.5" height="25.9" stroke="#1a1a1a" stroke-width="1.38" fill="none" />
<rect x="1240.0" y="360.3" width="43.4" height="105.7" stroke="#1a1a1a" stroke-width="1.61" fill="none" />
<rect x="1240.0" y="360.3" width="43.4" height="29.9" stroke="#1a1a1a" stroke-width="2.53" fill="none" />
<rect x="1244.8" y="364.3" width="31.2" height="21.9" stroke="#1a1a1a" stroke-width="1.61" fill="none" />
<line x1="1279.5" y1="363.3" x2="1279.5" y2="387.2" stroke="#1a1a1a" stroke-width="1.15" />
<rect x="1240.0" y="392.9" width="43.4" height="33.1" stroke="#1a1a1a" stroke-width="2.53" fill="none" />
<rect x="1244.8" y="396.9" width="31.2" height="25.1" stroke="#1a1a1a" stroke-width="1.61" fill="none" />
<line x1="1279.5" y1="395.9" x2="1279.5" y2="423.0" stroke="#1a1a1a" stroke-width="1.15" />
<rect x="1240.0" y="430.0" width="43.4" height="36.0" stroke="#1a1a1a" stroke-width="2.53" fill="none" />
<rect x="1244.8" y="434.0" width="31.2" height="28.0" stroke="#1a1a1a" stroke-width="1.61" fill="none" />
<line x1="1279.5" y1="433.0" x2="1279.5" y2="463.0" stroke="#1a1a1a" stroke-width="1.15" />
<rect x="1317.3" y="354.5" width="57.2" height="116.2" stroke="#1a1a1a" stroke-width="1.72" fill="none" />
<rect x="1322.6" y="357.0" width="45.9" height="109.0" stroke="#1a1a1a" stroke-width="1.38" fill="none" />
<rect x="1323.3" y="357.0" width="44.5" height="15.2" stroke="#1a1a1a" stroke-width="1.61" fill="none" />
<line x1="1325.0" y1="365.6" x2="1366.0" y2="365.3" stroke="#444" stroke-width="0.92" />
<line x1="1325.0" y1="408.4" x2="1343.2" y2="408.3" stroke="#1a1a1a" stroke-width="1.15" />
<line x1="1349.2" y1="408.2" x2="1366.0" y2="408.1" stroke="#1a1a1a" stroke-width="1.15" />
<line x1="1325.0" y1="412.8" x2="1343.2" y2="412.7" stroke="#1a1a1a" stroke-width="1.15" />
<line x1="1349.2" y1="412.6" x2="1366.0" y2="412.5" stroke="#1a1a1a" stroke-width="1.15" />
<line x1="1325.0" y1="417.2" x2="1343.2" y2="417.1" stroke="#1a1a1a" stroke-width="1.15" />
<line x1="1349.2" y1="417.0" x2="1366.0" y2="416.9" stroke="#1a1a1a" stroke-width="1.15" />
<line x1="1325.0" y1="421.6" x2="1343.2" y2="421.5" stroke="#1a1a1a" stroke-width="1.15" />
<line x1="1349.2" y1="421.4" x2="1366.0" y2="421.3" stroke="#1a1a1a" stroke-width="1.15" />
<line x1="1325.0" y1="426.0" x2="1343.2" y2="425.9" stroke="#1a1a1a" stroke-width="1.15" />
<line x1="1349.2" y1="425.8" x2="1366.0" y2="425.7" stroke="#1a1a1a" stroke-width="1.15" />
<line x1="1325.0" y1="430.4" x2="1343.2" y2="430.3" stroke="#1a1a1a" stroke-width="1.15" />
<line x1="1349.2" y1="430.2" x2="1366.0" y2="430.1" stroke="#1a1a1a" stroke-width="1.15" />
<line x1="1325.0" y1="434.8" x2="1343.2" y2="434.7" stroke="#1a1a1a" stroke-width="1.15" />
<line x1="1349.2" y1="434.6" x2="1366.0" y2="434.5" stroke="#1a1a1a" stroke-width="1.15" />
<line x1="1325.0" y1="439.2" x2="1343.2" y2="439.1" stroke="#1a1a1a" stroke-width="1.15" />
<line x1="1349.2" y1="439.0" x2="1366.0" y2="438.9" stroke="#1a1a1a" stroke-width="1.15" />
<line x1="1325.0" y1="443.6" x2="1343.2" y2="443.5" stroke="#1a1a1a" stroke-width="1.15" />
<line x1="1349.2" y1="443.4" x2="1366.0" y2="443.3" stroke="#1a1a1a" stroke-width="1.15" />
<line x1="1325.0" y1="448.0" x2="1343.2" y2="447.9" stroke="#1a1a1a" stroke-width="1.15" />
<line x1="1349.2" y1="447.8" x2="1366.0" y2="447.7" stroke="#1a1a1a" stroke-width="1.15" />
<line x1="1325.0" y1="452.4" x2="1343.2" y2="452.3" stroke="#1a1a1a" stroke-width="1.15" />
<line x1="1349.2" y1="452.2" x2="1366.0" y2="452.1" stroke="#1a1a1a" stroke-width="1.15" />
<rect x="1343.2" y="408.0" width="6.0" height="39.0" stroke="#1a1a1a" stroke-width="1.72" fill="none" />
<line x1="1323.5" y1="410.0" x2="1323.5" y2="465.0" stroke="#1a1a1a" stroke-width="2.76" />
<line x1="1367.5" y1="410.0" x2="1367.5" y2="465.0" stroke="#1a1a1a" stroke-width="2.76" />
<line x1="1323.5" y1="462.4" x2="1367.5" y2="462.1" stroke="#1a1a1a" stroke-width="2.76" />
<path d="M1318.6,379 A20,20 0 0 1 1338.6,399 L1318.6,399" stroke="#1a1a1a" stroke-width="1.38" fill="none"/>
<rect x="1351.0" y="378.0" width="5.0" height="6.0" stroke="none" stroke-width="0.00" fill="#333" />
<line x1="1463.8" y1="474.8" x2="1463.8" y2="768.5" stroke="#333" stroke-width="1.4" stroke-dasharray="5,2"/>
<line x1="1291.6" y1="768.5" x2="1463.8" y2="768.5" stroke="#333" stroke-width="1.4" stroke-dasharray="7,2"/>
<line x1="1252.9" y1="759.5" x2="1456.0" y2="758.0" stroke="#1a1a1a" stroke-width="1.49" />
<line x1="1252.9" y1="761.5" x2="1456.0" y2="760.5" stroke="#1a1a1a" stroke-width="1.15" />
<rect x="1257.7" y="762.0" width="33.9" height="6.5" stroke="#1a1a1a" stroke-width="1.15" fill="none" />
<path d="M1461.8,475.3 L1461.8,527.3 L1539.6,526.5 L1539.6,474.2" stroke="#1a1a1a" stroke-width="1.72" fill="none"/>
<line x1="763.0" y1="765.2" x2="1258.2" y2="762.5" stroke="#1a1a1a" stroke-width="1.84" />
<line x1="763.0" y1="769.6" x2="800.0" y2="769.4" stroke="#1a1a1a" stroke-width="2.76" />
<line x1="763.0" y1="772.2" x2="800.0" y2="772.0" stroke="#1a1a1a" stroke-width="1.38" />
<rect x="800.0" y="764.9" width="27.0" height="7.0" stroke="#222" stroke-width="1.26" fill="#fff" />
<line x1="827.0" y1="769.3" x2="845.0" y2="769.2" stroke="#1a1a1a" stroke-width="2.76" />
<line x1="827.0" y1="771.9" x2="845.0" y2="771.8" stroke="#1a1a1a" stroke-width="1.38" />
<rect x="845.0" y="764.7" width="27.0" height="7.0" stroke="#222" stroke-width="1.26" fill="#fff" />
<line x1="872.0" y1="769.0" x2="890.0" y2="768.9" stroke="#1a1a1a" stroke-width="2.76" />
<line x1="872.0" y1="771.6" x2="890.0" y2="771.5" stroke="#1a1a1a" stroke-width="1.38" />
<rect x="890.0" y="764.4" width="27.0" height="7.0" stroke="#222" stroke-width="1.26" fill="#fff" />
<line x1="917.0" y1="768.8" x2="935.0" y2="768.7" stroke="#1a1a1a" stroke-width="2.76" />
<line x1="917.0" y1="771.4" x2="935.0" y2="771.3" stroke="#1a1a1a" stroke-width="1.38" />
<rect x="935.0" y="764.2" width="27.0" height="7.0" stroke="#222" stroke-width="1.26" fill="#fff" />
<line x1="962.0" y1="768.5" x2="980.0" y2="768.4" stroke="#1a1a1a" stroke-width="2.76" />
<line x1="962.0" y1="771.2" x2="980.0" y2="771.1" stroke="#1a1a1a" stroke-width="1.38" />
<rect x="980.0" y="763.9" width="27.0" height="7.0" stroke="#222" stroke-width="1.26" fill="#fff" />
<line x1="1007.0" y1="768.3" x2="1025.0" y2="768.2" stroke="#1a1a1a" stroke-width="2.76" />
<line x1="1007.0" y1="770.9" x2="1025.0" y2="770.8" stroke="#1a1a1a" stroke-width="1.38" />
<rect x="1025.0" y="763.7" width="27.0" height="7.1" stroke="#222" stroke-width="1.26" fill="#fff" />
<line x1="1052.0" y1="768.1" x2="1070.0" y2="768.0" stroke="#1a1a1a" stroke-width="2.76" />
<line x1="1052.0" y1="770.7" x2="1070.0" y2="770.6" stroke="#1a1a1a" stroke-width="1.38" />
<rect x="1070.0" y="763.5" width="27.0" height="7.1" stroke="#222" stroke-width="1.26" fill="#fff" />
<line x1="1097.0" y1="767.8" x2="1115.0" y2="767.7" stroke="#1a1a1a" stroke-width="2.76" />
<line x1="1097.0" y1="770.4" x2="1115.0" y2="770.4" stroke="#1a1a1a" stroke-width="1.38" />
<rect x="1115.0" y="763.2" width="27.0" height="7.1" stroke="#222" stroke-width="1.26" fill="#fff" />
<line x1="1142.0" y1="767.6" x2="1160.0" y2="767.5" stroke="#1a1a1a" stroke-width="2.76" />
<line x1="1142.0" y1="770.2" x2="1160.0" y2="770.1" stroke="#1a1a1a" stroke-width="1.38" />
<rect x="1160.0" y="763.0" width="27.0" height="7.1" stroke="#222" stroke-width="1.26" fill="#fff" />
<line x1="1187.0" y1="767.3" x2="1205.0" y2="767.2" stroke="#1a1a1a" stroke-width="2.76" />
<line x1="1187.0" y1="770.0" x2="1205.0" y2="769.9" stroke="#1a1a1a" stroke-width="1.38" />
<rect x="1205.0" y="762.7" width="27.0" height="7.1" stroke="#222" stroke-width="1.26" fill="#fff" />
<line x1="1232.0" y1="767.1" x2="1250.0" y2="767.0" stroke="#1a1a1a" stroke-width="2.76" />
<line x1="1232.0" y1="769.7" x2="1250.0" y2="769.6" stroke="#1a1a1a" stroke-width="1.38" />
<rect x="1250.0" y="762.5" width="8.2" height="7.1" stroke="#222" stroke-width="1.26" fill="#fff" />
<line x1="763.0" y1="765.0" x2="763.0" y2="1010.0" stroke="#1a1a1a" stroke-width="1.84" />
<line x1="767.2" y1="765.0" x2="767.2" y2="790.0" stroke="#1a1a1a" stroke-width="2.76" />
<line x1="769.8" y1="765.0" x2="769.8" y2="790.0" stroke="#1a1a1a" stroke-width="1.38" />
<rect x="763.0" y="790.0" width="6.8" height="28.0" stroke="#222" stroke-width="1.26" fill="#fff" />
<line x1="767.2" y1="818.0" x2="767.2" y2="835.0" stroke="#1a1a1a" stroke-width="2.76" />
<line x1="769.8" y1="818.0" x2="769.8" y2="835.0" stroke="#1a1a1a" stroke-width="1.38" />
<rect x="763.0" y="835.0" width="6.8" height="28.0" stroke="#222" stroke-width="1.26" fill="#fff" />
<line x1="767.2" y1="863.0" x2="767.2" y2="880.0" stroke="#1a1a1a" stroke-width="2.76" />
<line x1="769.8" y1="863.0" x2="769.8" y2="880.0" stroke="#1a1a1a" stroke-width="1.38" />
<rect x="763.0" y="880.0" width="6.8" height="28.0" stroke="#222" stroke-width="1.26" fill="#fff" />
<line x1="767.2" y1="908.0" x2="767.2" y2="925.0" stroke="#1a1a1a" stroke-width="2.76" />
<line x1="769.8" y1="908.0" x2="769.8" y2="925.0" stroke="#1a1a1a" stroke-width="1.38" />
<rect x="763.0" y="925.0" width="6.8" height="28.0" stroke="#222" stroke-width="1.26" fill="#fff" />
<line x1="767.2" y1="953.0" x2="767.2" y2="970.0" stroke="#1a1a1a" stroke-width="2.76" />
<line x1="769.8" y1="953.0" x2="769.8" y2="970.0" stroke="#1a1a1a" stroke-width="1.38" />
<rect x="763.0" y="970.0" width="6.8" height="28.0" stroke="#222" stroke-width="1.26" fill="#fff" />
<line x1="767.2" y1="998.0" x2="767.2" y2="1010.0" stroke="#1a1a1a" stroke-width="2.76" />
<line x1="769.8" y1="998.0" x2="769.8" y2="1010.0" stroke="#1a1a1a" stroke-width="1.38" />
<line x1="1258.2" y1="762.5" x2="1258.2" y2="1007.0" stroke="#1a1a1a" stroke-width="1.84" />
<line x1="1253.9" y1="762.5" x2="1253.9" y2="790.0" stroke="#1a1a1a" stroke-width="2.76" />
<line x1="1251.2" y1="762.5" x2="1251.2" y2="790.0" stroke="#1a1a1a" stroke-width="1.38" />
<rect x="1251.2" y="790.0" width="7.0" height="30.0" stroke="#222" stroke-width="1.26" fill="#fff" />
<line x1="1253.9" y1="820.0" x2="1253.9" y2="840.0" stroke="#1a1a1a" stroke-width="2.76" />
<line x1="1251.2" y1="820.0" x2="1251.2" y2="840.0" stroke="#1a1a1a" stroke-width="1.38" />
<rect x="1251.2" y="840.0" width="7.0" height="30.0" stroke="#222" stroke-width="1.26" fill="#fff" />
<line x1="1253.9" y1="870.0" x2="1253.9" y2="890.0" stroke="#1a1a1a" stroke-width="2.76" />
<line x1="1251.2" y1="870.0" x2="1251.2" y2="890.0" stroke="#1a1a1a" stroke-width="1.38" />
<rect x="1251.2" y="890.0" width="7.0" height="30.0" stroke="#222" stroke-width="1.26" fill="#fff" />
<line x1="1253.9" y1="920.0" x2="1253.9" y2="940.0" stroke="#1a1a1a" stroke-width="2.76" />
<line x1="1251.2" y1="920.0" x2="1251.2" y2="940.0" stroke="#1a1a1a" stroke-width="1.38" />
<rect x="1251.2" y="940.0" width="7.0" height="30.0" stroke="#222" stroke-width="1.26" fill="#fff" />
<line x1="1253.9" y1="970.0" x2="1253.9" y2="990.0" stroke="#1a1a1a" stroke-width="2.76" />
<line x1="1251.2" y1="970.0" x2="1251.2" y2="990.0" stroke="#1a1a1a" stroke-width="1.38" />
<rect x="1251.2" y="990.0" width="7.0" height="17.0" stroke="#222" stroke-width="1.26" fill="#fff" />
<line x1="763.0" y1="1010.6" x2="1258.2" y2="1007.0" stroke="#1a1a1a" stroke-width="1.84" />
<line x1="763.0" y1="1006.6" x2="790.0" y2="1006.4" stroke="#1a1a1a" stroke-width="2.76" />
<line x1="763.0" y1="1004.4" x2="790.0" y2="1004.2" stroke="#1a1a1a" stroke-width="1.38" />
<rect x="790.0" y="1004.1" width="28.0" height="6.2" stroke="#222" stroke-width="1.26" fill="#fff" />
<line x1="818.0" y1="1006.2" x2="836.0" y2="1006.1" stroke="#1a1a1a" stroke-width="2.76" />
<line x1="818.0" y1="1004.0" x2="836.0" y2="1003.9" stroke="#1a1a1a" stroke-width="1.38" />
<rect x="836.0" y="1003.8" width="28.0" height="6.1" stroke="#222" stroke-width="1.26" fill="#fff" />
<line x1="864.0" y1="1005.9" x2="882.0" y2="1005.8" stroke="#1a1a1a" stroke-width="2.76" />
<line x1="864.0" y1="1003.7" x2="882.0" y2="1003.6" stroke="#1a1a1a" stroke-width="1.38" />
<rect x="882.0" y="1003.5" width="28.0" height="6.1" stroke="#222" stroke-width="1.26" fill="#fff" />
<line x1="910.0" y1="1005.6" x2="928.0" y2="1005.5" stroke="#1a1a1a" stroke-width="2.76" />
<line x1="910.0" y1="1003.5" x2="928.0" y2="1003.3" stroke="#1a1a1a" stroke-width="1.38" />
<rect x="928.0" y="1003.2" width="28.0" height="6.1" stroke="#222" stroke-width="1.26" fill="#fff" />
<line x1="956.0" y1="1005.3" x2="974.0" y2="1005.2" stroke="#1a1a1a" stroke-width="2.76" />
<line x1="956.0" y1="1003.2" x2="974.0" y2="1003.0" stroke="#1a1a1a" stroke-width="1.38" />
<rect x="974.0" y="1002.9" width="28.0" height="6.0" stroke="#222" stroke-width="1.26" fill="#fff" />
<line x1="1002.0" y1="1005.0" x2="1020.0" y2="1004.8" stroke="#1a1a1a" stroke-width="2.76" />
<line x1="1002.0" y1="1002.9" x2="1020.0" y2="1002.7" stroke="#1a1a1a" stroke-width="1.38" />
<rect x="1020.0" y="1002.6" width="28.0" height="6.0" stroke="#222" stroke-width="1.26" fill="#fff" />
<line x1="1048.0" y1="1004.6" x2="1066.0" y2="1004.5" stroke="#1a1a1a" stroke-width="2.76" />
<line x1="1048.0" y1="1002.6" x2="1066.0" y2="1002.4" stroke="#1a1a1a" stroke-width="1.38" />
<rect x="1066.0" y="1002.4" width="28.0" height="5.9" stroke="#222" stroke-width="1.26" fill="#fff" />
<line x1="1094.0" y1="1004.3" x2="1112.0" y2="1004.2" stroke="#1a1a1a" stroke-width="2.76" />
<line x1="1094.0" y1="1002.3" x2="1112.0" y2="1002.1" stroke="#1a1a1a" stroke-width="1.38" />
<rect x="1112.0" y="1002.1" width="28.0" height="5.9" stroke="#222" stroke-width="1.26" fill="#fff" />
<line x1="1140.0" y1="1004.0" x2="1158.0" y2="1003.9" stroke="#1a1a1a" stroke-width="2.76" />
<line x1="1140.0" y1="1002.0" x2="1158.0" y2="1001.8" stroke="#1a1a1a" stroke-width="1.38" />
<rect x="1158.0" y="1001.8" width="28.0" height="5.9" stroke="#222" stroke-width="1.26" fill="#fff" />
<line x1="1186.0" y1="1003.7" x2="1204.0" y2="1003.6" stroke="#1a1a1a" stroke-width="2.76" />
<line x1="1186.0" y1="1001.7" x2="1204.0" y2="1001.6" stroke="#1a1a1a" stroke-width="1.38" />
<rect x="1204.0" y="1001.5" width="28.0" height="5.8" stroke="#222" stroke-width="1.26" fill="#fff" />
<line x1="1232.0" y1="1003.4" x2="1250.0" y2="1003.3" stroke="#1a1a1a" stroke-width="2.76" />
<line x1="1232.0" y1="1001.4" x2="1250.0" y2="1001.3" stroke="#1a1a1a" stroke-width="1.38" />
<rect x="1250.0" y="1001.2" width="8.2" height="5.8" stroke="#222" stroke-width="1.26" fill="#fff" />
<line x1="770.0" y1="816.2" x2="868.0" y2="815.9" stroke="#1a1a1a" stroke-width="1.49" />
<line x1="770.0" y1="818.4" x2="868.0" y2="818.1" stroke="#1a1a1a" stroke-width="1.15" />
<line x1="770.0" y1="861.5" x2="868.0" y2="861.2" stroke="#1a1a1a" stroke-width="1.49" />
<line x1="770.0" y1="863.7" x2="868.0" y2="863.4" stroke="#1a1a1a" stroke-width="1.15" />
<line x1="770.0" y1="906.0" x2="868.0" y2="905.7" stroke="#1a1a1a" stroke-width="1.49" />
<line x1="770.0" y1="908.2" x2="868.0" y2="907.9" stroke="#1a1a1a" stroke-width="1.15" />
<line x1="770.0" y1="945.6" x2="868.0" y2="945.3" stroke="#1a1a1a" stroke-width="1.49" />
<line x1="770.0" y1="947.8" x2="868.0" y2="947.5" stroke="#1a1a1a" stroke-width="1.15" />
<line x1="825.8" y1="772.0" x2="825.8" y2="945.6" stroke="#1a1a1a" stroke-width="1.38" />
<line x1="831.2" y1="772.0" x2="831.2" y2="945.6" stroke="#1a1a1a" stroke-width="1.38" />
<line x1="865.9" y1="772.0" x2="865.9" y2="946.0" stroke="#1a1a1a" stroke-width="1.49" />
<line x1="870.0" y1="772.0" x2="870.0" y2="946.0" stroke="#1a1a1a" stroke-width="1.49" />
<rect x="768.3" y="770.1" width="10.9" height="11.0" stroke="#1a1a1a" stroke-width="1.49" fill="none" />
<rect x="768.3" y="995.5" width="11.1" height="11.5" stroke="#1a1a1a" stroke-width="1.49" fill="none" />
<line x1="820.5" y1="946.0" x2="820.5" y2="1004.5" stroke="#1a1a1a" stroke-width="1.26" />
<line x1="822.5" y1="946.0" x2="822.5" y2="1004.5" stroke="#1a1a1a" stroke-width="1.26" />
<line x1="872.0" y1="946.0" x2="872.0" y2="1004.5" stroke="#1a1a1a" stroke-width="1.26" />
<line x1="874.0" y1="946.0" x2="874.0" y2="1004.5" stroke="#1a1a1a" stroke-width="1.26" />
<line x1="877.0" y1="946.0" x2="877.0" y2="1004.5" stroke="#1a1a1a" stroke-width="1.26" />
<line x1="879.5" y1="946.0" x2="879.5" y2="1004.5" stroke="#1a1a1a" stroke-width="1.26" />
<line x1="927.4" y1="946.0" x2="927.4" y2="1004.5" stroke="#1a1a1a" stroke-width="1.26" />
<line x1="929.6" y1="946.0" x2="929.6" y2="1004.5" stroke="#1a1a1a" stroke-width="1.26" />
<line x1="975.5" y1="946.0" x2="975.5" y2="1004.5" stroke="#1a1a1a" stroke-width="1.26" />
<line x1="977.5" y1="946.0" x2="977.5" y2="1004.5" stroke="#1a1a1a" stroke-width="1.26" />
<line x1="1019.2" y1="946.0" x2="1019.2" y2="1004.5" stroke="#1a1a1a" stroke-width="1.26" />
<line x1="1021.4" y1="946.0" x2="1021.4" y2="1004.5" stroke="#1a1a1a" stroke-width="1.26" />
<line x1="1065.2" y1="946.0" x2="1065.2" y2="1004.5" stroke="#1a1a1a" stroke-width="1.26" />
<line x1="1067.8" y1="946.0" x2="1067.8" y2="1004.5" stroke="#1a1a1a" stroke-width="1.26" />
<line x1="870.0" y1="903.5" x2="1066.0" y2="902.8" stroke="#1a1a1a" stroke-width="1.49" />
<line x1="870.0" y1="905.5" x2="1066.0" y2="904.8" stroke="#1a1a1a" stroke-width="1.15" />
<line x1="770.0" y1="946.2" x2="1066.0" y2="945.6" stroke="#1a1a1a" stroke-width="1.49" />
<rect x="901.7" y="768.9" width="47.0" height="107.9" stroke="#1a1a1a" stroke-width="1.72" fill="none" />
<rect x="906.0" y="776.0" width="40.5" height="96.0" stroke="#1a1a1a" stroke-width="1.15" fill="none" />
<rect x="906.0" y="801.0" width="40.5" height="24.5" stroke="#1a1a1a" stroke-width="2.53" fill="none" />
<rect x="910.0" y="804.5" width="33.0" height="17.5" stroke="#1a1a1a" stroke-width="1.49" fill="none" />
<rect x="906.0" y="830.8" width="40.5" height="25.7" stroke="#1a1a1a" stroke-width="2.53" fill="none" />
<rect x="910.0" y="834.3" width="33.0" height="18.7" stroke="#1a1a1a" stroke-width="1.49" fill="none" />
<rect x="906.0" y="864.0" width="40.5" height="6.0" stroke="#1a1a1a" stroke-width="1.61" fill="none" />
<rect x="908.0" y="866.0" width="1.6" height="2.0" stroke="none" stroke-width="0.00" fill="#222" />
<rect x="911.2" y="866.0" width="1.6" height="2.0" stroke="none" stroke-width="0.00" fill="#222" />
<rect x="914.4" y="866.0" width="1.6" height="2.0" stroke="none" stroke-width="0.00" fill="#222" />
<rect x="917.6" y="866.0" width="1.6" height="2.0" stroke="none" stroke-width="0.00" fill="#222" />
<rect x="920.8" y="866.0" width="1.6" height="2.0" stroke="none" stroke-width="0.00" fill="#222" />
<rect x="924.0" y="866.0" width="1.6" height="2.0" stroke="none" stroke-width="0.00" fill="#222" />
<rect x="927.2" y="866.0" width="1.6" height="2.0" stroke="none" stroke-width="0.00" fill="#222" />
<rect x="930.4" y="866.0" width="1.6" height="2.0" stroke="none" stroke-width="0.00" fill="#222" />
<rect x="933.6" y="866.0" width="1.6" height="2.0" stroke="none" stroke-width="0.00" fill="#222" />
<rect x="936.8" y="866.0" width="1.6" height="2.0" stroke="none" stroke-width="0.00" fill="#222" />
<rect x="940.0" y="866.0" width="1.6" height="2.0" stroke="none" stroke-width="0.00" fill="#222" />
<rect x="943.2" y="866.0" width="1.6" height="2.0" stroke="none" stroke-width="0.00" fill="#222" />
<line x1="906.0" y1="787.3" x2="946.5" y2="787.0" stroke="#1a1a1a" stroke-width="1.15" />
<rect x="949.7" y="771.0" width="47.0" height="105.8" stroke="#1a1a1a" stroke-width="1.72" fill="none" />
<line x1="954.0" y1="799.4" x2="970.7" y2="799.2" stroke="#1a1a1a" stroke-width="1.15" />
<line x1="977.5" y1="799.2" x2="995.7" y2="799.0" stroke="#1a1a1a" stroke-width="1.15" />
<line x1="954.0" y1="803.5" x2="970.7" y2="803.3" stroke="#1a1a1a" stroke-width="1.15" />
<line x1="977.5" y1="803.3" x2="995.7" y2="803.1" stroke="#1a1a1a" stroke-width="1.15" />
<line x1="954.0" y1="807.6" x2="970.7" y2="807.4" stroke="#1a1a1a" stroke-width="1.15" />
<line x1="977.5" y1="807.4" x2="995.7" y2="807.2" stroke="#1a1a1a" stroke-width="1.15" />
<line x1="954.0" y1="811.7" x2="970.7" y2="811.5" stroke="#1a1a1a" stroke-width="1.15" />
<line x1="977.5" y1="811.5" x2="995.7" y2="811.3" stroke="#1a1a1a" stroke-width="1.15" />
<line x1="954.0" y1="815.8" x2="970.7" y2="815.6" stroke="#1a1a1a" stroke-width="1.15" />
<line x1="977.5" y1="815.6" x2="995.7" y2="815.4" stroke="#1a1a1a" stroke-width="1.15" />
<line x1="954.0" y1="819.9" x2="970.7" y2="819.7" stroke="#1a1a1a" stroke-width="1.15" />
<line x1="977.5" y1="819.7" x2="995.7" y2="819.5" stroke="#1a1a1a" stroke-width="1.15" />
<line x1="954.0" y1="824.0" x2="970.7" y2="823.8" stroke="#1a1a1a" stroke-width="1.15" />
<line x1="977.5" y1="823.8" x2="995.7" y2="823.6" stroke="#1a1a1a" stroke-width="1.15" />
<line x1="954.0" y1="828.1" x2="970.7" y2="827.9" stroke="#1a1a1a" stroke-width="1.15" />
<line x1="977.5" y1="827.9" x2="995.7" y2="827.7" stroke="#1a1a1a" stroke-width="1.15" />
<rect x="970.7" y="791.3" width="6.8" height="47.0" stroke="#1a1a1a" stroke-width="2.07" fill="none" />
<path d="M954,860 A16,16 0 0 1 970,876" stroke="#1a1a1a" stroke-width="1.26" fill="none"/>
<line x1="954.0" y1="860.0" x2="954.0" y2="876.0" stroke="#1a1a1a" stroke-width="1.15" />
<rect x="975.0" y="858.0" width="21.0" height="18.8" stroke="#1a1a1a" stroke-width="1.38" fill="none" />
<rect x="978.0" y="862.0" width="15.0" height="12.0" stroke="#1a1a1a" stroke-width="1.15" fill="none" />
<line x1="1000.0" y1="768.0" x2="1000.0" y2="877.0" stroke="#1a1a1a" stroke-width="1.49" />
<line x1="1002.5" y1="768.0" x2="1002.5" y2="877.0" stroke="#1a1a1a" stroke-width="1.15" />
<line x1="1000.0" y1="868.2" x2="1062.0" y2="867.8" stroke="#1a1a1a" stroke-width="1.49" />
<line x1="1061.9" y1="768.0" x2="1061.9" y2="945.0" stroke="#1a1a1a" stroke-width="1.38" />
<line x1="1066.5" y1="768.0" x2="1066.5" y2="945.0" stroke="#1a1a1a" stroke-width="1.38" />
<line x1="1110.0" y1="770.0" x2="1110.0" y2="869.4" stroke="#1a1a1a" stroke-width="1.26" />
<line x1="1112.5" y1="770.0" x2="1112.5" y2="869.4" stroke="#1a1a1a" stroke-width="1.26" />
<line x1="1155.5" y1="770.0" x2="1155.5" y2="869.4" stroke="#1a1a1a" stroke-width="1.26" />
<line x1="1158.5" y1="770.0" x2="1158.5" y2="869.4" stroke="#1a1a1a" stroke-width="1.26" />
<line x1="1201.5" y1="770.0" x2="1201.5" y2="869.4" stroke="#1a1a1a" stroke-width="1.26" />
<line x1="1204.0" y1="770.0" x2="1204.0" y2="869.4" stroke="#1a1a1a" stroke-width="1.26" />
<line x1="1066.0" y1="869.6" x2="1251.0" y2="868.6" stroke="#1a1a1a" stroke-width="1.49" />
<line x1="1066.0" y1="871.6" x2="1251.0" y2="870.6" stroke="#1a1a1a" stroke-width="1.15" />
<line x1="1066.0" y1="906.8" x2="1251.0" y2="905.8" stroke="#1a1a1a" stroke-width="1.49" />
<line x1="1066.0" y1="904.8" x2="1251.0" y2="903.8" stroke="#1a1a1a" stroke-width="1.15" />
<line x1="1110.0" y1="906.5" x2="1110.0" y2="1002.0" stroke="#1a1a1a" stroke-width="1.26" />
<line x1="1112.5" y1="906.5" x2="1112.5" y2="1002.0" stroke="#1a1a1a" stroke-width="1.26" />
<line x1="1155.5" y1="906.5" x2="1155.5" y2="1002.0" stroke="#1a1a1a" stroke-width="1.26" />
<line x1="1158.5" y1="906.5" x2="1158.5" y2="1002.0" stroke="#1a1a1a" stroke-width="1.26" />
<rect x="1190.0" y="899.0" width="38.0" height="6.0" stroke="#1a1a1a" stroke-width="1.38" fill="none" />
<rect x="1242.0" y="772.5" width="8.0" height="10.5" stroke="#1a1a1a" stroke-width="1.26" fill="none" />
<rect x="1243.0" y="990.0" width="7.0" height="9.0" stroke="#1a1a1a" stroke-width="1.26" fill="none" />
<line x1="1238.0" y1="913.1" x2="1250.0" y2="913.0" stroke="#1a1a1a" stroke-width="2.07" />
<rect x="1016.8" y="295.8" width="24.2" height="40.2" stroke="none" stroke-width="0.00" fill="#1c1c1c" />
<rect x="1019.6" y="298.6" width="18.6" height="8.8" stroke="none" stroke-width="0.00" fill="#f3f3f3" />
<line x1="1019.6" y1="299.1" x2="1038.2" y2="307.4" stroke="#1c1c1c" stroke-width="1.72" />
<rect x="1020.9" y="309.6" width="4.3" height="4.0" stroke="none" stroke-width="0.00" fill="#ececec" />
<rect x="1026.8" y="309.6" width="4.3" height="4.0" stroke="none" stroke-width="0.00" fill="#ececec" />
<rect x="1032.6" y="309.6" width="4.3" height="4.0" stroke="none" stroke-width="0.00" fill="#ececec" />
<rect x="1020.9" y="315.6" width="4.3" height="4.0" stroke="none" stroke-width="0.00" fill="#ececec" />
<rect x="1026.8" y="315.6" width="4.3" height="4.0" stroke="none" stroke-width="0.00" fill="#ececec" />
<rect x="1032.6" y="315.6" width="4.3" height="4.0" stroke="none" stroke-width="0.00" fill="#ececec" />
<ellipse cx="1022.8" cy="326.1" rx="2.2" ry="3.2" fill="#c8c8c8"/>
<rect x="1029.0" y="328.7" width="9.2" height="2.0" stroke="none" stroke-width="0.00" fill="#e6e6e6" />
<rect x="1041.0" y="295.8" width="24.2" height="40.2" stroke="none" stroke-width="0.00" fill="#1c1c1c" />
<rect x="1043.8" y="298.6" width="18.6" height="8.8" stroke="none" stroke-width="0.00" fill="#f3f3f3" />
<line x1="1062.4" y1="299.1" x2="1043.8" y2="307.4" stroke="#1c1c1c" stroke-width="1.72" />
<rect x="1045.1" y="309.6" width="4.3" height="4.0" stroke="none" stroke-width="0.00" fill="#ececec" />
<rect x="1051.0" y="309.6" width="4.3" height="4.0" stroke="none" stroke-width="0.00" fill="#ececec" />
<rect x="1056.8" y="309.6" width="4.3" height="4.0" stroke="none" stroke-width="0.00" fill="#ececec" />
<rect x="1045.1" y="315.6" width="4.3" height="4.0" stroke="none" stroke-width="0.00" fill="#ececec" />
<rect x="1051.0" y="315.6" width="4.3" height="4.0" stroke="none" stroke-width="0.00" fill="#ececec" />
<rect x="1056.8" y="315.6" width="4.3" height="4.0" stroke="none" stroke-width="0.00" fill="#ececec" />
<ellipse cx="1059.2" cy="326.1" rx="2.2" ry="3.2" fill="#c8c8c8"/>
<rect x="1043.8" y="328.7" width="9.2" height="2.0" stroke="none" stroke-width="0.00" fill="#e6e6e6" />
<rect x="1038.5" y="295.8" width="5.0" height="40.2" stroke="none" stroke-width="0.00" fill="#1c1c1c" />
<rect x="1016.8" y="335.5" width="48.4" height="4.0" stroke="#222" stroke-width="1.15" fill="#fafafa" />
<rect x="1104.2" y="295.2" width="24.2" height="40.3" stroke="none" stroke-width="0.00" fill="#1c1c1c" />
<rect x="1107.0" y="298.0" width="18.6" height="8.9" stroke="none" stroke-width="0.00" fill="#f3f3f3" />
<line x1="1107.0" y1="298.5" x2="1125.6" y2="306.9" stroke="#1c1c1c" stroke-width="1.72" />
<rect x="1108.3" y="309.1" width="4.3" height="4.0" stroke="none" stroke-width="0.00" fill="#ececec" />
<rect x="1114.2" y="309.1" width="4.3" height="4.0" stroke="none" stroke-width="0.00" fill="#ececec" />
<rect x="1120.0" y="309.1" width="4.3" height="4.0" stroke="none" stroke-width="0.00" fill="#ececec" />
<rect x="1108.3" y="315.1" width="4.3" height="4.0" stroke="none" stroke-width="0.00" fill="#ececec" />
<rect x="1114.2" y="315.1" width="4.3" height="4.0" stroke="none" stroke-width="0.00" fill="#ececec" />
<rect x="1120.0" y="315.1" width="4.3" height="4.0" stroke="none" stroke-width="0.00" fill="#ececec" />
<ellipse cx="1110.2" cy="325.6" rx="2.2" ry="3.2" fill="#c8c8c8"/>
<rect x="1116.4" y="328.2" width="9.2" height="2.0" stroke="none" stroke-width="0.00" fill="#e6e6e6" />
<rect x="1128.4" y="295.2" width="24.2" height="40.3" stroke="none" stroke-width="0.00" fill="#1c1c1c" />
<rect x="1131.2" y="298.0" width="18.6" height="8.9" stroke="none" stroke-width="0.00" fill="#f3f3f3" />
<line x1="1149.8" y1="298.5" x2="1131.2" y2="306.9" stroke="#1c1c1c" stroke-width="1.72" />
<rect x="1132.5" y="309.1" width="4.3" height="4.0" stroke="none" stroke-width="0.00" fill="#ececec" />
<rect x="1138.4" y="309.1" width="4.3" height="4.0" stroke="none" stroke-width="0.00" fill="#ececec" />
<rect x="1144.2" y="309.1" width="4.3" height="4.0" stroke="none" stroke-width="0.00" fill="#ececec" />
<rect x="1132.5" y="315.1" width="4.3" height="4.0" stroke="none" stroke-width="0.00" fill="#ececec" />
<rect x="1138.4" y="315.1" width="4.3" height="4.0" stroke="none" stroke-width="0.00" fill="#ececec" />
<rect x="1144.2" y="315.1" width="4.3" height="4.0" stroke="none" stroke-width="0.00" fill="#ececec" />
<ellipse cx="1146.6" cy="325.6" rx="2.2" ry="3.2" fill="#c8c8c8"/>
<rect x="1131.2" y="328.2" width="9.2" height="2.0" stroke="none" stroke-width="0.00" fill="#e6e6e6" />
<rect x="1125.9" y="295.2" width="5.0" height="40.3" stroke="none" stroke-width="0.00" fill="#1c1c1c" />
<rect x="1104.2" y="335.0" width="48.4" height="4.0" stroke="#222" stroke-width="1.15" fill="#fafafa" />
<rect x="1173.5" y="294.4" width="24.2" height="36.6" stroke="none" stroke-width="0.00" fill="#1c1c1c" />
<rect x="1176.3" y="297.2" width="18.6" height="8.1" stroke="none" stroke-width="0.00" fill="#f3f3f3" />
<line x1="1194.9" y1="297.7" x2="1176.3" y2="305.3" stroke="#1c1c1c" stroke-width="1.72" />
<rect x="1177.6" y="307.5" width="4.3" height="4.0" stroke="none" stroke-width="0.00" fill="#ececec" />
<rect x="1183.5" y="307.5" width="4.3" height="4.0" stroke="none" stroke-width="0.00" fill="#ececec" />
<rect x="1189.3" y="307.5" width="4.3" height="4.0" stroke="none" stroke-width="0.00" fill="#ececec" />
<rect x="1177.6" y="313.5" width="4.3" height="4.0" stroke="none" stroke-width="0.00" fill="#ececec" />
<rect x="1183.5" y="313.5" width="4.3" height="4.0" stroke="none" stroke-width="0.00" fill="#ececec" />
<rect x="1189.3" y="313.5" width="4.3" height="4.0" stroke="none" stroke-width="0.00" fill="#ececec" />
<ellipse cx="1191.7" cy="324.0" rx="2.2" ry="3.2" fill="#c8c8c8"/>
<rect x="1176.3" y="323.7" width="9.2" height="2.0" stroke="none" stroke-width="0.00" fill="#e6e6e6" />
<rect x="1236.7" y="288.2" width="23.1" height="38.4" stroke="none" stroke-width="0.00" fill="#1c1c1c" />
<rect x="1239.5" y="291.0" width="17.5" height="8.4" stroke="none" stroke-width="0.00" fill="#f3f3f3" />
<line x1="1257.0" y1="291.5" x2="1239.5" y2="299.4" stroke="#1c1c1c" stroke-width="1.72" />
<rect x="1240.8" y="301.6" width="3.9" height="4.0" stroke="none" stroke-width="0.00" fill="#ececec" />
<rect x="1246.3" y="301.6" width="3.9" height="4.0" stroke="none" stroke-width="0.00" fill="#ececec" />
<rect x="1251.8" y="301.6" width="3.9" height="4.0" stroke="none" stroke-width="0.00" fill="#ececec" />
<rect x="1240.8" y="307.6" width="3.9" height="4.0" stroke="none" stroke-width="0.00" fill="#ececec" />
<rect x="1246.3" y="307.6" width="3.9" height="4.0" stroke="none" stroke-width="0.00" fill="#ececec" />
<rect x="1251.8" y="307.6" width="3.9" height="4.0" stroke="none" stroke-width="0.00" fill="#ececec" />
<ellipse cx="1253.8" cy="318.1" rx="2.2" ry="3.2" fill="#c8c8c8"/>
<rect x="1239.5" y="319.3" width="8.8" height="2.0" stroke="none" stroke-width="0.00" fill="#e6e6e6" />
<rect x="1375.0" y="290.5" width="23.6" height="40.1" stroke="none" stroke-width="0.00" fill="#1c1c1c" />
<rect x="1377.8" y="293.3" width="18.0" height="8.8" stroke="none" stroke-width="0.00" fill="#f3f3f3" />
<line x1="1395.8" y1="293.8" x2="1377.8" y2="302.1" stroke="#1c1c1c" stroke-width="1.72" />
<rect x="1379.1" y="304.3" width="4.1" height="4.0" stroke="none" stroke-width="0.00" fill="#ececec" />
<rect x="1384.8" y="304.3" width="4.1" height="4.0" stroke="none" stroke-width="0.00" fill="#ececec" />
<rect x="1390.4" y="304.3" width="4.1" height="4.0" stroke="none" stroke-width="0.00" fill="#ececec" />
<rect x="1379.1" y="310.3" width="4.1" height="4.0" stroke="none" stroke-width="0.00" fill="#ececec" />
<rect x="1384.8" y="310.3" width="4.1" height="4.0" stroke="none" stroke-width="0.00" fill="#ececec" />
<rect x="1390.4" y="310.3" width="4.1" height="4.0" stroke="none" stroke-width="0.00" fill="#ececec" />
<ellipse cx="1392.6" cy="320.8" rx="2.2" ry="3.2" fill="#c8c8c8"/>
<rect x="1377.8" y="323.3" width="9.0" height="2.0" stroke="none" stroke-width="0.00" fill="#e6e6e6" />
<rect x="1467.0" y="292.2" width="24.2" height="38.4" stroke="none" stroke-width="0.00" fill="#1c1c1c" />
<rect x="1469.8" y="295.0" width="18.6" height="8.4" stroke="none" stroke-width="0.00" fill="#f3f3f3" />
<line x1="1488.4" y1="295.5" x2="1469.8" y2="303.4" stroke="#1c1c1c" stroke-width="1.72" />
<rect x="1471.1" y="305.6" width="4.3" height="4.0" stroke="none" stroke-width="0.00" fill="#ececec" />
<rect x="1477.0" y="305.6" width="4.3" height="4.0" stroke="none" stroke-width="0.00" fill="#ececec" />
<rect x="1482.8" y="305.6" width="4.3" height="4.0" stroke="none" stroke-width="0.00" fill="#ececec" />
<rect x="1471.1" y="311.6" width="4.3" height="4.0" stroke="none" stroke-width="0.00" fill="#ececec" />
<rect x="1477.0" y="311.6" width="4.3" height="4.0" stroke="none" stroke-width="0.00" fill="#ececec" />
<rect x="1482.8" y="311.6" width="4.3" height="4.0" stroke="none" stroke-width="0.00" fill="#ececec" />
<ellipse cx="1485.2" cy="322.1" rx="2.2" ry="3.2" fill="#c8c8c8"/>
<rect x="1469.8" y="323.3" width="9.2" height="2.0" stroke="none" stroke-width="0.00" fill="#e6e6e6" />
<rect x="1525.0" y="291.6" width="24.4" height="37.7" stroke="none" stroke-width="0.00" fill="#1c1c1c" />
<rect x="1527.8" y="294.4" width="18.8" height="8.3" stroke="none" stroke-width="0.00" fill="#f3f3f3" />
<line x1="1546.6" y1="294.9" x2="1527.8" y2="302.7" stroke="#1c1c1c" stroke-width="1.72" />
<rect x="1529.1" y="304.9" width="4.3" height="4.0" stroke="none" stroke-width="0.00" fill="#ececec" />
<rect x="1535.0" y="304.9" width="4.3" height="4.0" stroke="none" stroke-width="0.00" fill="#ececec" />
<rect x="1541.0" y="304.9" width="4.3" height="4.0" stroke="none" stroke-width="0.00" fill="#ececec" />
<rect x="1529.1" y="310.9" width="4.3" height="4.0" stroke="none" stroke-width="0.00" fill="#ececec" />
<rect x="1535.0" y="310.9" width="4.3" height="4.0" stroke="none" stroke-width="0.00" fill="#ececec" />
<rect x="1541.0" y="310.9" width="4.3" height="4.0" stroke="none" stroke-width="0.00" fill="#ececec" />
<ellipse cx="1543.4" cy="321.4" rx="2.2" ry="3.2" fill="#c8c8c8"/>
<rect x="1527.8" y="322.0" width="9.3" height="2.0" stroke="none" stroke-width="0.00" fill="#e6e6e6" />
<rect x="1618.4" y="290.6" width="22.9" height="39.4" stroke="none" stroke-width="0.00" fill="#1c1c1c" />
<rect x="1621.2" y="293.4" width="17.3" height="8.7" stroke="none" stroke-width="0.00" fill="#f3f3f3" />
<line x1="1621.2" y1="293.9" x2="1638.5" y2="302.1" stroke="#1c1c1c" stroke-width="1.72" />
<rect x="1622.5" y="304.3" width="3.8" height="4.0" stroke="none" stroke-width="0.00" fill="#ececec" />
<rect x="1627.9" y="304.3" width="3.8" height="4.0" stroke="none" stroke-width="0.00" fill="#ececec" />
<rect x="1633.4" y="304.3" width="3.8" height="4.0" stroke="none" stroke-width="0.00" fill="#ececec" />
<rect x="1622.5" y="310.3" width="3.8" height="4.0" stroke="none" stroke-width="0.00" fill="#ececec" />
<rect x="1627.9" y="310.3" width="3.8" height="4.0" stroke="none" stroke-width="0.00" fill="#ececec" />
<rect x="1633.4" y="310.3" width="3.8" height="4.0" stroke="none" stroke-width="0.00" fill="#ececec" />
<ellipse cx="1624.4" cy="320.8" rx="2.2" ry="3.2" fill="#c8c8c8"/>
<rect x="1629.8" y="322.7" width="8.7" height="2.0" stroke="none" stroke-width="0.00" fill="#e6e6e6" />
<rect x="1291.4" y="276.4" width="39.6" height="44.0" stroke="none" stroke-width="0.00" fill="#1c1c1c" />
<rect x="1295.0" y="279.5" width="32.5" height="37.5" stroke="none" stroke-width="0.00" fill="#f2f2f2" />
<rect x="1297.0" y="281.0" width="22.0" height="7.0" stroke="#1a1a1a" stroke-width="1.84" fill="none" />
<rect x="1321.0" y="281.0" width="5.0" height="19.0" stroke="#1a1a1a" stroke-width="1.38" fill="none" />
<line x1="1307.0" y1="290.0" x2="1307.0" y2="312.0" stroke="#1a1a1a" stroke-width="1.61" />
<line x1="1318.0" y1="290.0" x2="1318.0" y2="312.0" stroke="#1a1a1a" stroke-width="1.61" />
<rect x="1295.0" y="300.0" width="8.0" height="12.0" stroke="none" stroke-width="0.00" fill="#333" />
<circle cx="1310" cy="306" r="3" fill="#555"/>
<rect x="1296.0" y="313.0" width="31.0" height="4.0" stroke="none" stroke-width="0.00" fill="#222" />
<line x1="1293.5" y1="320.6" x2="1352.0" y2="320.2" stroke="#1a1a1a" stroke-width="1.61" />
<line x1="1352.0" y1="320.2" x2="1352.0" y2="330.0" stroke="#1a1a1a" stroke-width="1.49" />
<rect x="1306.0" y="321.8" width="28.0" height="6.4" stroke="#222" stroke-width="1.61" fill="#fff" />
<rect x="1308.0" y="323.6" width="2.0" height="2.8" stroke="none" stroke-width="0.00" fill="#333" />
<rect x="1311.6" y="323.6" width="2.0" height="2.8" stroke="none" stroke-width="0.00" fill="#333" />
<rect x="1315.2" y="323.6" width="2.0" height="2.8" stroke="none" stroke-width="0.00" fill="#333" />
<rect x="1318.8" y="323.6" width="2.0" height="2.8" stroke="none" stroke-width="0.00" fill="#333" />
<rect x="1322.4" y="323.6" width="2.0" height="2.8" stroke="none" stroke-width="0.00" fill="#333" />
<rect x="1326.0" y="323.6" width="2.0" height="2.8" stroke="none" stroke-width="0.00" fill="#333" />
<rect x="1329.6" y="323.6" width="2.0" height="2.8" stroke="none" stroke-width="0.00" fill="#333" />
<rect x="1355.0" y="322.0" width="13.0" height="8.0" stroke="#1a1a1a" stroke-width="1.26" fill="none" />
<line x1="1359.0" y1="322.0" x2="1359.0" y2="330.0" stroke="#1a1a1a" stroke-width="1.15" />
<rect x="1104.0" y="362.3" width="24.7" height="42.5" stroke="none" stroke-width="0.00" fill="#1c1c1c" />
<rect x="1106.8" y="392.6" width="19.1" height="9.4" stroke="none" stroke-width="0.00" fill="#f3f3f3" />
<line x1="1106.8" y1="401.5" x2="1125.9" y2="392.6" stroke="#1c1c1c" stroke-width="1.72" />
<rect x="1108.1" y="375.1" width="4.4" height="4.0" stroke="none" stroke-width="0.00" fill="#ececec" />
<rect x="1114.1" y="375.1" width="4.4" height="4.0" stroke="none" stroke-width="0.00" fill="#ececec" />
<rect x="1120.1" y="375.1" width="4.4" height="4.0" stroke="none" stroke-width="0.00" fill="#ececec" />
<rect x="1108.1" y="381.1" width="4.4" height="4.0" stroke="none" stroke-width="0.00" fill="#ececec" />
<rect x="1114.1" y="381.1" width="4.4" height="4.0" stroke="none" stroke-width="0.00" fill="#ececec" />
<rect x="1120.1" y="381.1" width="4.4" height="4.0" stroke="none" stroke-width="0.00" fill="#ececec" />
<ellipse cx="1110.0" cy="369.6" rx="2.2" ry="3.2" fill="#c8c8c8"/>
<rect x="1116.5" y="367.6" width="9.4" height="2.0" stroke="none" stroke-width="0.00" fill="#e6e6e6" />
<rect x="1128.7" y="362.3" width="24.6" height="42.5" stroke="none" stroke-width="0.00" fill="#1c1c1c" />
<rect x="1131.5" y="392.6" width="19.0" height="9.4" stroke="none" stroke-width="0.00" fill="#f3f3f3" />
<line x1="1150.5" y1="401.5" x2="1131.5" y2="392.6" stroke="#1c1c1c" stroke-width="1.72" />
<rect x="1132.8" y="375.1" width="4.4" height="4.0" stroke="none" stroke-width="0.00" fill="#ececec" />
<rect x="1138.8" y="375.1" width="4.4" height="4.0" stroke="none" stroke-width="0.00" fill="#ececec" />
<rect x="1144.8" y="375.1" width="4.4" height="4.0" stroke="none" stroke-width="0.00" fill="#ececec" />
<rect x="1132.8" y="381.1" width="4.4" height="4.0" stroke="none" stroke-width="0.00" fill="#ececec" />
<rect x="1138.8" y="381.1" width="4.4" height="4.0" stroke="none" stroke-width="0.00" fill="#ececec" />
<rect x="1144.8" y="381.1" width="4.4" height="4.0" stroke="none" stroke-width="0.00" fill="#ececec" />
<ellipse cx="1147.3" cy="369.6" rx="2.2" ry="3.2" fill="#c8c8c8"/>
<rect x="1131.5" y="367.6" width="9.4" height="2.0" stroke="none" stroke-width="0.00" fill="#e6e6e6" />
<rect x="1126.2" y="362.3" width="5.0" height="42.5" stroke="none" stroke-width="0.00" fill="#1c1c1c" />
<rect x="1104.0" y="358.8" width="49.3" height="4.0" stroke="#222" stroke-width="1.15" fill="#fafafa" />
<rect x="1179.0" y="379.5" width="23.3" height="36.6" stroke="none" stroke-width="0.00" fill="#1c1c1c" />
<rect x="1181.8" y="405.2" width="17.7" height="8.1" stroke="none" stroke-width="0.00" fill="#f3f3f3" />
<line x1="1199.5" y1="412.8" x2="1181.8" y2="405.2" stroke="#1c1c1c" stroke-width="1.72" />
<rect x="1183.1" y="390.5" width="4.0" height="4.0" stroke="none" stroke-width="0.00" fill="#ececec" />
<rect x="1188.7" y="390.5" width="4.0" height="4.0" stroke="none" stroke-width="0.00" fill="#ececec" />
<rect x="1194.2" y="390.5" width="4.0" height="4.0" stroke="none" stroke-width="0.00" fill="#ececec" />
<rect x="1183.1" y="396.5" width="4.0" height="4.0" stroke="none" stroke-width="0.00" fill="#ececec" />
<rect x="1188.7" y="396.5" width="4.0" height="4.0" stroke="none" stroke-width="0.00" fill="#ececec" />
<rect x="1194.2" y="396.5" width="4.0" height="4.0" stroke="none" stroke-width="0.00" fill="#ececec" />
<ellipse cx="1196.3" cy="385.0" rx="2.2" ry="3.2" fill="#c8c8c8"/>
<rect x="1181.8" y="384.8" width="8.9" height="2.0" stroke="none" stroke-width="0.00" fill="#e6e6e6" />
<rect x="1187.0" y="365.0" width="14.6" height="10.6" stroke="#1a1a1a" stroke-width="1.61" fill="none" />
<rect x="1190.0" y="367.5" width="9.0" height="6.0" stroke="#1a1a1a" stroke-width="1.15" fill="none" />
<rect x="1375.8" y="362.3" width="22.6" height="41.2" stroke="none" stroke-width="0.00" fill="#1c1c1c" />
<rect x="1378.6" y="391.6" width="17.0" height="9.1" stroke="none" stroke-width="0.00" fill="#f3f3f3" />
<line x1="1395.6" y1="400.2" x2="1378.6" y2="391.6" stroke="#1c1c1c" stroke-width="1.72" />
<rect x="1379.9" y="374.7" width="3.7" height="4.0" stroke="none" stroke-width="0.00" fill="#ececec" />
<rect x="1385.2" y="374.7" width="3.7" height="4.0" stroke="none" stroke-width="0.00" fill="#ececec" />
<rect x="1390.6" y="374.7" width="3.7" height="4.0" stroke="none" stroke-width="0.00" fill="#ececec" />
<rect x="1379.9" y="380.7" width="3.7" height="4.0" stroke="none" stroke-width="0.00" fill="#ececec" />
<rect x="1385.2" y="380.7" width="3.7" height="4.0" stroke="none" stroke-width="0.00" fill="#ececec" />
<rect x="1390.6" y="380.7" width="3.7" height="4.0" stroke="none" stroke-width="0.00" fill="#ececec" />
<ellipse cx="1392.4" cy="369.2" rx="2.2" ry="3.2" fill="#c8c8c8"/>
<rect x="1378.6" y="367.6" width="8.6" height="2.0" stroke="none" stroke-width="0.00" fill="#e6e6e6" />
<rect x="1468.6" y="361.6" width="22.7" height="39.9" stroke="none" stroke-width="0.00" fill="#1c1c1c" />
<rect x="1471.4" y="389.9" width="17.1" height="8.8" stroke="none" stroke-width="0.00" fill="#f3f3f3" />
<line x1="1488.5" y1="398.2" x2="1471.4" y2="389.9" stroke="#1c1c1c" stroke-width="1.72" />
<rect x="1472.7" y="373.6" width="3.8" height="4.0" stroke="none" stroke-width="0.00" fill="#ececec" />
<rect x="1478.1" y="373.6" width="3.8" height="4.0" stroke="none" stroke-width="0.00" fill="#ececec" />
<rect x="1483.4" y="373.6" width="3.8" height="4.0" stroke="none" stroke-width="0.00" fill="#ececec" />
<rect x="1472.7" y="379.6" width="3.8" height="4.0" stroke="none" stroke-width="0.00" fill="#ececec" />
<rect x="1478.1" y="379.6" width="3.8" height="4.0" stroke="none" stroke-width="0.00" fill="#ececec" />
<rect x="1483.4" y="379.6" width="3.8" height="4.0" stroke="none" stroke-width="0.00" fill="#ececec" />
<ellipse cx="1485.3" cy="368.1" rx="2.2" ry="3.2" fill="#c8c8c8"/>
<rect x="1471.4" y="366.9" width="8.6" height="2.0" stroke="none" stroke-width="0.00" fill="#e6e6e6" />
<rect x="1523.9" y="361.0" width="25.3" height="40.5" stroke="none" stroke-width="0.00" fill="#1c1c1c" />
<rect x="1526.7" y="389.8" width="19.7" height="8.9" stroke="none" stroke-width="0.00" fill="#f3f3f3" />
<line x1="1546.4" y1="398.2" x2="1526.7" y2="389.8" stroke="#1c1c1c" stroke-width="1.72" />
<rect x="1528.0" y="373.1" width="4.6" height="4.0" stroke="none" stroke-width="0.00" fill="#ececec" />
<rect x="1534.2" y="373.1" width="4.6" height="4.0" stroke="none" stroke-width="0.00" fill="#ececec" />
<rect x="1540.5" y="373.1" width="4.6" height="4.0" stroke="none" stroke-width="0.00" fill="#ececec" />
<rect x="1528.0" y="379.1" width="4.6" height="4.0" stroke="none" stroke-width="0.00" fill="#ececec" />
<rect x="1534.2" y="379.1" width="4.6" height="4.0" stroke="none" stroke-width="0.00" fill="#ececec" />
<rect x="1540.5" y="379.1" width="4.6" height="4.0" stroke="none" stroke-width="0.00" fill="#ececec" />
<ellipse cx="1543.2" cy="367.6" rx="2.2" ry="3.2" fill="#c8c8c8"/>
<rect x="1526.7" y="366.3" width="9.6" height="2.0" stroke="none" stroke-width="0.00" fill="#e6e6e6" />
<rect x="1619.0" y="365.0" width="23.3" height="39.8" stroke="none" stroke-width="0.00" fill="#1c1c1c" />
<rect x="1621.8" y="393.2" width="17.7" height="8.8" stroke="none" stroke-width="0.00" fill="#f3f3f3" />
<line x1="1621.8" y1="401.5" x2="1639.5" y2="393.2" stroke="#1c1c1c" stroke-width="1.72" />
<rect x="1623.1" y="376.9" width="4.0" height="4.0" stroke="none" stroke-width="0.00" fill="#ececec" />
<rect x="1628.7" y="376.9" width="4.0" height="4.0" stroke="none" stroke-width="0.00" fill="#ececec" />
<rect x="1634.2" y="376.9" width="4.0" height="4.0" stroke="none" stroke-width="0.00" fill="#ececec" />
<rect x="1623.1" y="382.9" width="4.0" height="4.0" stroke="none" stroke-width="0.00" fill="#ececec" />
<rect x="1628.7" y="382.9" width="4.0" height="4.0" stroke="none" stroke-width="0.00" fill="#ececec" />
<rect x="1634.2" y="382.9" width="4.0" height="4.0" stroke="none" stroke-width="0.00" fill="#ececec" />
<ellipse cx="1625.0" cy="371.4" rx="2.2" ry="3.2" fill="#c8c8c8"/>
<rect x="1630.6" y="370.3" width="8.9" height="2.0" stroke="none" stroke-width="0.00" fill="#e6e6e6" />
<rect x="827.6" y="771.5" width="40.9" height="26.3" stroke="none" stroke-width="0.00" fill="#1c1c1c" />
<rect x="830.1" y="774.0" width="9.0" height="21.3" stroke="none" stroke-width="0.00" fill="#f0f0f0" />
<line x1="830.1" y1="774.0" x2="839.1" y2="795.3" stroke="#1c1c1c" stroke-width="1.61" />
<rect x="840.3" y="775.2" width="3.6" height="5.5" stroke="none" stroke-width="0.00" fill="#e8e8e8" />
<rect x="840.3" y="782.3" width="3.6" height="5.5" stroke="none" stroke-width="0.00" fill="#e8e8e8" />
<rect x="840.3" y="789.4" width="3.6" height="5.5" stroke="none" stroke-width="0.00" fill="#e8e8e8" />
<rect x="845.4" y="775.2" width="3.6" height="5.5" stroke="none" stroke-width="0.00" fill="#e8e8e8" />
<rect x="845.4" y="782.3" width="3.6" height="5.5" stroke="none" stroke-width="0.00" fill="#e8e8e8" />
<rect x="845.4" y="789.4" width="3.6" height="5.5" stroke="none" stroke-width="0.00" fill="#e8e8e8" />
<rect x="850.5" y="775.2" width="3.6" height="5.5" stroke="none" stroke-width="0.00" fill="#e8e8e8" />
<rect x="850.5" y="782.3" width="3.6" height="5.5" stroke="none" stroke-width="0.00" fill="#e8e8e8" />
<rect x="850.5" y="789.4" width="3.6" height="5.5" stroke="none" stroke-width="0.00" fill="#e8e8e8" />
<rect x="864.0" y="776.0" width="1.5" height="7.3" stroke="none" stroke-width="0.00" fill="#d0d0d0" />
<rect x="864.0" y="786.0" width="1.5" height="7.3" stroke="none" stroke-width="0.00" fill="#d0d0d0" />
<rect x="827.6" y="879.5" width="40.9" height="25.2" stroke="none" stroke-width="0.00" fill="#1c1c1c" />
<rect x="830.1" y="882.0" width="9.0" height="20.2" stroke="none" stroke-width="0.00" fill="#f0f0f0" />
<line x1="830.1" y1="882.0" x2="839.1" y2="902.2" stroke="#1c1c1c" stroke-width="1.61" />
<rect x="840.3" y="883.2" width="3.6" height="5.1" stroke="none" stroke-width="0.00" fill="#e8e8e8" />
<rect x="840.3" y="889.9" width="3.6" height="5.1" stroke="none" stroke-width="0.00" fill="#e8e8e8" />
<rect x="840.3" y="896.7" width="3.6" height="5.1" stroke="none" stroke-width="0.00" fill="#e8e8e8" />
<rect x="845.4" y="883.2" width="3.6" height="5.1" stroke="none" stroke-width="0.00" fill="#e8e8e8" />
<rect x="845.4" y="889.9" width="3.6" height="5.1" stroke="none" stroke-width="0.00" fill="#e8e8e8" />
<rect x="845.4" y="896.7" width="3.6" height="5.1" stroke="none" stroke-width="0.00" fill="#e8e8e8" />
<rect x="850.5" y="883.2" width="3.6" height="5.1" stroke="none" stroke-width="0.00" fill="#e8e8e8" />
<rect x="850.5" y="889.9" width="3.6" height="5.1" stroke="none" stroke-width="0.00" fill="#e8e8e8" />
<rect x="850.5" y="896.7" width="3.6" height="5.1" stroke="none" stroke-width="0.00" fill="#e8e8e8" />
<rect x="864.0" y="884.0" width="1.5" height="6.8" stroke="none" stroke-width="0.00" fill="#d0d0d0" />
<rect x="864.0" y="893.4" width="1.5" height="6.8" stroke="none" stroke-width="0.00" fill="#d0d0d0" />
<rect x="827.6" y="906.8" width="40.9" height="24.2" stroke="none" stroke-width="0.00" fill="#1c1c1c" />
<rect x="830.1" y="909.3" width="9.0" height="19.2" stroke="none" stroke-width="0.00" fill="#f0f0f0" />
<line x1="830.1" y1="909.3" x2="839.1" y2="928.5" stroke="#1c1c1c" stroke-width="1.61" />
<rect x="840.3" y="910.5" width="3.6" height="4.8" stroke="none" stroke-width="0.00" fill="#e8e8e8" />
<rect x="840.3" y="916.9" width="3.6" height="4.8" stroke="none" stroke-width="0.00" fill="#e8e8e8" />
<rect x="840.3" y="923.3" width="3.6" height="4.8" stroke="none" stroke-width="0.00" fill="#e8e8e8" />
<rect x="845.4" y="910.5" width="3.6" height="4.8" stroke="none" stroke-width="0.00" fill="#e8e8e8" />
<rect x="845.4" y="916.9" width="3.6" height="4.8" stroke="none" stroke-width="0.00" fill="#e8e8e8" />
<rect x="845.4" y="923.3" width="3.6" height="4.8" stroke="none" stroke-width="0.00" fill="#e8e8e8" />
<rect x="850.5" y="910.5" width="3.6" height="4.8" stroke="none" stroke-width="0.00" fill="#e8e8e8" />
<rect x="850.5" y="916.9" width="3.6" height="4.8" stroke="none" stroke-width="0.00" fill="#e8e8e8" />
<rect x="850.5" y="923.3" width="3.6" height="4.8" stroke="none" stroke-width="0.00" fill="#e8e8e8" />
<rect x="864.0" y="911.3" width="1.5" height="6.4" stroke="none" stroke-width="0.00" fill="#d0d0d0" />
<rect x="864.0" y="920.1" width="1.5" height="6.4" stroke="none" stroke-width="0.00" fill="#d0d0d0" />
<rect x="1003.1" y="835.1" width="22.5" height="41.7" stroke="none" stroke-width="0.00" fill="#1c1c1c" />
<rect x="1005.9" y="837.9" width="16.9" height="9.2" stroke="none" stroke-width="0.00" fill="#f3f3f3" />
<line x1="1022.8" y1="838.4" x2="1005.9" y2="847.1" stroke="#1c1c1c" stroke-width="1.72" />
<rect x="1007.2" y="849.3" width="3.7" height="4.0" stroke="none" stroke-width="0.00" fill="#ececec" />
<rect x="1012.5" y="849.3" width="3.7" height="4.0" stroke="none" stroke-width="0.00" fill="#ececec" />
<rect x="1017.8" y="849.3" width="3.7" height="4.0" stroke="none" stroke-width="0.00" fill="#ececec" />
<rect x="1007.2" y="855.3" width="3.7" height="4.0" stroke="none" stroke-width="0.00" fill="#ececec" />
<rect x="1012.5" y="855.3" width="3.7" height="4.0" stroke="none" stroke-width="0.00" fill="#ececec" />
<rect x="1017.8" y="855.3" width="3.7" height="4.0" stroke="none" stroke-width="0.00" fill="#ececec" />
<ellipse cx="1019.6" cy="865.8" rx="2.2" ry="3.2" fill="#c8c8c8"/>
<rect x="1005.9" y="869.5" width="8.5" height="2.0" stroke="none" stroke-width="0.00" fill="#e6e6e6" />
<rect x="903.5" y="905.2" width="25.9" height="41.0" stroke="none" stroke-width="0.00" fill="#1c1c1c" />
<rect x="906.3" y="934.4" width="20.3" height="9.0" stroke="none" stroke-width="0.00" fill="#f3f3f3" />
<line x1="906.3" y1="942.9" x2="926.6" y2="934.4" stroke="#1c1c1c" stroke-width="1.72" />
<rect x="907.6" y="917.5" width="4.8" height="4.0" stroke="none" stroke-width="0.00" fill="#ececec" />
<rect x="914.0" y="917.5" width="4.8" height="4.0" stroke="none" stroke-width="0.00" fill="#ececec" />
<rect x="920.5" y="917.5" width="4.8" height="4.0" stroke="none" stroke-width="0.00" fill="#ececec" />
<rect x="907.6" y="923.5" width="4.8" height="4.0" stroke="none" stroke-width="0.00" fill="#ececec" />
<rect x="914.0" y="923.5" width="4.8" height="4.0" stroke="none" stroke-width="0.00" fill="#ececec" />
<rect x="920.5" y="923.5" width="4.8" height="4.0" stroke="none" stroke-width="0.00" fill="#ececec" />
<ellipse cx="909.5" cy="912.0" rx="2.2" ry="3.2" fill="#c8c8c8"/>
<rect x="916.8" y="910.5" width="9.8" height="2.0" stroke="none" stroke-width="0.00" fill="#e6e6e6" />
<rect x="929.4" y="905.2" width="25.9" height="41.0" stroke="none" stroke-width="0.00" fill="#1c1c1c" />
<rect x="932.2" y="934.4" width="20.3" height="9.0" stroke="none" stroke-width="0.00" fill="#f3f3f3" />
<line x1="952.5" y1="942.9" x2="932.2" y2="934.4" stroke="#1c1c1c" stroke-width="1.72" />
<rect x="933.5" y="917.5" width="4.8" height="4.0" stroke="none" stroke-width="0.00" fill="#ececec" />
<rect x="939.9" y="917.5" width="4.8" height="4.0" stroke="none" stroke-width="0.00" fill="#ececec" />
<rect x="946.4" y="917.5" width="4.8" height="4.0" stroke="none" stroke-width="0.00" fill="#ececec" />
<rect x="933.5" y="923.5" width="4.8" height="4.0" stroke="none" stroke-width="0.00" fill="#ececec" />
<rect x="939.9" y="923.5" width="4.8" height="4.0" stroke="none" stroke-width="0.00" fill="#ececec" />
<rect x="946.4" y="923.5" width="4.8" height="4.0" stroke="none" stroke-width="0.00" fill="#ececec" />
<ellipse cx="949.3" cy="912.0" rx="2.2" ry="3.2" fill="#c8c8c8"/>
<rect x="932.2" y="910.5" width="9.8" height="2.0" stroke="none" stroke-width="0.00" fill="#e6e6e6" />
<rect x="926.9" y="905.2" width="5.0" height="41.0" stroke="none" stroke-width="0.00" fill="#1c1c1c" />
<rect x="903.5" y="901.7" width="51.8" height="4.0" stroke="#222" stroke-width="1.15" fill="#fafafa" />
<rect x="1039.0" y="905.6" width="24.0" height="39.5" stroke="none" stroke-width="0.00" fill="#1c1c1c" />
<rect x="1041.8" y="933.6" width="18.4" height="8.7" stroke="none" stroke-width="0.00" fill="#f3f3f3" />
<line x1="1060.2" y1="941.8" x2="1041.8" y2="933.6" stroke="#1c1c1c" stroke-width="1.72" />
<rect x="1043.1" y="917.5" width="4.2" height="4.0" stroke="none" stroke-width="0.00" fill="#ececec" />
<rect x="1048.9" y="917.5" width="4.2" height="4.0" stroke="none" stroke-width="0.00" fill="#ececec" />
<rect x="1054.7" y="917.5" width="4.2" height="4.0" stroke="none" stroke-width="0.00" fill="#ececec" />
<rect x="1043.1" y="923.5" width="4.2" height="4.0" stroke="none" stroke-width="0.00" fill="#ececec" />
<rect x="1048.9" y="923.5" width="4.2" height="4.0" stroke="none" stroke-width="0.00" fill="#ececec" />
<rect x="1054.7" y="923.5" width="4.2" height="4.0" stroke="none" stroke-width="0.00" fill="#ececec" />
<ellipse cx="1057.0" cy="912.0" rx="2.2" ry="3.2" fill="#c8c8c8"/>
<rect x="1041.8" y="910.9" width="9.1" height="2.0" stroke="none" stroke-width="0.00" fill="#e6e6e6" />
<rect x="1087.9" y="833.9" width="23.9" height="42.4" stroke="none" stroke-width="0.00" fill="#1c1c1c" />
<rect x="1090.7" y="836.7" width="18.3" height="9.3" stroke="none" stroke-width="0.00" fill="#f3f3f3" />
<line x1="1090.7" y1="837.2" x2="1109.0" y2="846.0" stroke="#1c1c1c" stroke-width="1.72" />
<rect x="1092.0" y="848.2" width="4.2" height="4.0" stroke="none" stroke-width="0.00" fill="#ececec" />
<rect x="1097.8" y="848.2" width="4.2" height="4.0" stroke="none" stroke-width="0.00" fill="#ececec" />
<rect x="1103.6" y="848.2" width="4.2" height="4.0" stroke="none" stroke-width="0.00" fill="#ececec" />
<rect x="1092.0" y="854.2" width="4.2" height="4.0" stroke="none" stroke-width="0.00" fill="#ececec" />
<rect x="1097.8" y="854.2" width="4.2" height="4.0" stroke="none" stroke-width="0.00" fill="#ececec" />
<rect x="1103.6" y="854.2" width="4.2" height="4.0" stroke="none" stroke-width="0.00" fill="#ececec" />
<ellipse cx="1093.9" cy="864.7" rx="2.2" ry="3.2" fill="#c8c8c8"/>
<rect x="1099.9" y="869.0" width="9.1" height="2.0" stroke="none" stroke-width="0.00" fill="#e6e6e6" />
<rect x="1111.8" y="833.9" width="24.0" height="42.4" stroke="none" stroke-width="0.00" fill="#1c1c1c" />
<rect x="1114.6" y="836.7" width="18.4" height="9.3" stroke="none" stroke-width="0.00" fill="#f3f3f3" />
<line x1="1133.0" y1="837.2" x2="1114.6" y2="846.0" stroke="#1c1c1c" stroke-width="1.72" />
<rect x="1115.9" y="848.2" width="4.2" height="4.0" stroke="none" stroke-width="0.00" fill="#ececec" />
<rect x="1121.7" y="848.2" width="4.2" height="4.0" stroke="none" stroke-width="0.00" fill="#ececec" />
<rect x="1127.5" y="848.2" width="4.2" height="4.0" stroke="none" stroke-width="0.00" fill="#ececec" />
<rect x="1115.9" y="854.2" width="4.2" height="4.0" stroke="none" stroke-width="0.00" fill="#ececec" />
<rect x="1121.7" y="854.2" width="4.2" height="4.0" stroke="none" stroke-width="0.00" fill="#ececec" />
<rect x="1127.5" y="854.2" width="4.2" height="4.0" stroke="none" stroke-width="0.00" fill="#ececec" />
<ellipse cx="1129.8" cy="864.7" rx="2.2" ry="3.2" fill="#c8c8c8"/>
<rect x="1114.6" y="869.0" width="9.1" height="2.0" stroke="none" stroke-width="0.00" fill="#e6e6e6" />
<rect x="1109.3" y="833.9" width="5.0" height="42.4" stroke="none" stroke-width="0.00" fill="#1c1c1c" />
<rect x="1087.9" y="875.8" width="47.9" height="4.0" stroke="#222" stroke-width="1.15" fill="#fafafa" />
<rect x="1179.4" y="832.8" width="23.9" height="43.1" stroke="none" stroke-width="0.00" fill="#1c1c1c" />
<rect x="1182.2" y="835.6" width="18.3" height="9.5" stroke="none" stroke-width="0.00" fill="#f3f3f3" />
<line x1="1182.2" y1="836.1" x2="1200.5" y2="845.1" stroke="#1c1c1c" stroke-width="1.72" />
<rect x="1183.5" y="847.3" width="4.2" height="4.0" stroke="none" stroke-width="0.00" fill="#ececec" />
<rect x="1189.3" y="847.3" width="4.2" height="4.0" stroke="none" stroke-width="0.00" fill="#ececec" />
<rect x="1195.1" y="847.3" width="4.2" height="4.0" stroke="none" stroke-width="0.00" fill="#ececec" />
<rect x="1183.5" y="853.3" width="4.2" height="4.0" stroke="none" stroke-width="0.00" fill="#ececec" />
<rect x="1189.3" y="853.3" width="4.2" height="4.0" stroke="none" stroke-width="0.00" fill="#ececec" />
<rect x="1195.1" y="853.3" width="4.2" height="4.0" stroke="none" stroke-width="0.00" fill="#ececec" />
<ellipse cx="1185.4" cy="863.8" rx="2.2" ry="3.2" fill="#c8c8c8"/>
<rect x="1191.4" y="868.6" width="9.1" height="2.0" stroke="none" stroke-width="0.00" fill="#e6e6e6" />
<rect x="1203.3" y="832.8" width="24.0" height="43.1" stroke="none" stroke-width="0.00" fill="#1c1c1c" />
<rect x="1206.1" y="835.6" width="18.4" height="9.5" stroke="none" stroke-width="0.00" fill="#f3f3f3" />
<line x1="1224.5" y1="836.1" x2="1206.1" y2="845.1" stroke="#1c1c1c" stroke-width="1.72" />
<rect x="1207.4" y="847.3" width="4.2" height="4.0" stroke="none" stroke-width="0.00" fill="#ececec" />
<rect x="1213.2" y="847.3" width="4.2" height="4.0" stroke="none" stroke-width="0.00" fill="#ececec" />
<rect x="1219.0" y="847.3" width="4.2" height="4.0" stroke="none" stroke-width="0.00" fill="#ececec" />
<rect x="1207.4" y="853.3" width="4.2" height="4.0" stroke="none" stroke-width="0.00" fill="#ececec" />
<rect x="1213.2" y="853.3" width="4.2" height="4.0" stroke="none" stroke-width="0.00" fill="#ececec" />
<rect x="1219.0" y="853.3" width="4.2" height="4.0" stroke="none" stroke-width="0.00" fill="#ececec" />
<ellipse cx="1221.3" cy="863.8" rx="2.2" ry="3.2" fill="#c8c8c8"/>
<rect x="1206.1" y="868.6" width="9.1" height="2.0" stroke="none" stroke-width="0.00" fill="#e6e6e6" />
<rect x="1200.8" y="832.8" width="5.0" height="43.1" stroke="none" stroke-width="0.00" fill="#1c1c1c" />
<rect x="1179.4" y="875.4" width="47.9" height="4.0" stroke="#222" stroke-width="1.15" fill="#fafafa" />
<rect x="1087.2" y="901.4" width="24.5" height="42.5" stroke="none" stroke-width="0.00" fill="#1c1c1c" />
<rect x="1090.0" y="931.8" width="18.9" height="9.4" stroke="none" stroke-width="0.00" fill="#f3f3f3" />
<line x1="1090.0" y1="940.6" x2="1108.9" y2="931.8" stroke="#1c1c1c" stroke-width="1.72" />
<rect x="1091.3" y="914.1" width="4.4" height="4.0" stroke="none" stroke-width="0.00" fill="#ececec" />
<rect x="1097.3" y="914.1" width="4.4" height="4.0" stroke="none" stroke-width="0.00" fill="#ececec" />
<rect x="1103.2" y="914.1" width="4.4" height="4.0" stroke="none" stroke-width="0.00" fill="#ececec" />
<rect x="1091.3" y="920.1" width="4.4" height="4.0" stroke="none" stroke-width="0.00" fill="#ececec" />
<rect x="1097.3" y="920.1" width="4.4" height="4.0" stroke="none" stroke-width="0.00" fill="#ececec" />
<rect x="1103.2" y="920.1" width="4.4" height="4.0" stroke="none" stroke-width="0.00" fill="#ececec" />
<ellipse cx="1093.2" cy="908.6" rx="2.2" ry="3.2" fill="#c8c8c8"/>
<rect x="1099.6" y="906.7" width="9.3" height="2.0" stroke="none" stroke-width="0.00" fill="#e6e6e6" />
<rect x="1111.7" y="901.4" width="24.5" height="42.5" stroke="none" stroke-width="0.00" fill="#1c1c1c" />
<rect x="1114.5" y="931.8" width="18.9" height="9.4" stroke="none" stroke-width="0.00" fill="#f3f3f3" />
<line x1="1133.4" y1="940.6" x2="1114.5" y2="931.8" stroke="#1c1c1c" stroke-width="1.72" />
<rect x="1115.8" y="914.1" width="4.4" height="4.0" stroke="none" stroke-width="0.00" fill="#ececec" />
<rect x="1121.8" y="914.1" width="4.4" height="4.0" stroke="none" stroke-width="0.00" fill="#ececec" />
<rect x="1127.7" y="914.1" width="4.4" height="4.0" stroke="none" stroke-width="0.00" fill="#ececec" />
<rect x="1115.8" y="920.1" width="4.4" height="4.0" stroke="none" stroke-width="0.00" fill="#ececec" />
<rect x="1121.8" y="920.1" width="4.4" height="4.0" stroke="none" stroke-width="0.00" fill="#ececec" />
<rect x="1127.7" y="920.1" width="4.4" height="4.0" stroke="none" stroke-width="0.00" fill="#ececec" />
<ellipse cx="1130.2" cy="908.6" rx="2.2" ry="3.2" fill="#c8c8c8"/>
<rect x="1114.5" y="906.7" width="9.3" height="2.0" stroke="none" stroke-width="0.00" fill="#e6e6e6" />
<rect x="1109.2" y="901.4" width="5.0" height="42.5" stroke="none" stroke-width="0.00" fill="#1c1c1c" />
<rect x="1087.2" y="897.9" width="49.0" height="4.0" stroke="#222" stroke-width="1.15" fill="#fafafa" />
<path d="M1000.0,329.9 L1006.0,318.7 A12.7,12.7 0 0 1 1012.7,329.9" stroke="#222" stroke-width="1.15" fill="none"/>
<path d="M1080.0,330.0 L1074.1,319.0 A12.5,12.5 0 0 0 1067.5,330.0" stroke="#222" stroke-width="1.15" fill="none"/>
<path d="M1088.9,330.1 L1094.3,319.8 A11.6,11.6 0 0 1 1100.5,330.1" stroke="#222" stroke-width="1.15" fill="none"/>
<path d="M1169.0,330.2 L1163.4,319.6 A12.0,12.0 0 0 0 1157.0,330.2" stroke="#222" stroke-width="1.15" fill="none"/>
<path d="M1215.8,330.2 L1209.5,318.3 A13.5,13.5 0 0 0 1202.3,330.2" stroke="#222" stroke-width="1.15" fill="none"/>
<path d="M1278.0,330.3 L1271.6,318.2 A13.7,13.7 0 0 0 1264.3,330.3" stroke="#222" stroke-width="1.15" fill="none"/>
<path d="M1415.6,330.5 L1409.2,318.5 A13.6,13.6 0 0 0 1402.0,330.5" stroke="#222" stroke-width="1.15" fill="none"/>
<path d="M1510.4,330.7 L1503.5,317.7 A14.7,14.7 0 0 0 1495.7,330.7" stroke="#222" stroke-width="1.15" fill="none"/>
<path d="M1568.7,330.8 L1562.4,318.9 A13.5,13.5 0 0 0 1555.2,330.8" stroke="#222" stroke-width="1.15" fill="none"/>
<path d="M1601.6,330.8 L1607.9,319.0 A13.4,13.4 0 0 1 1615.0,330.8" stroke="#222" stroke-width="1.15" fill="none"/>
<path d="M1016.8,310.0 L1007.8,316.3 A11.0,11.0 0 0 0 1016.8,321.0" stroke="#222" stroke-width="1.15" fill="none"/>
<path d="M1065.2,310.0 L1074.2,316.3 A11.0,11.0 0 0 1 1065.2,321.0" stroke="#222" stroke-width="1.15" fill="none"/>
<path d="M1104.2,310.0 L1095.2,316.3 A11.0,11.0 0 0 0 1104.2,321.0" stroke="#222" stroke-width="1.15" fill="none"/>
<path d="M1152.6,310.0 L1161.6,316.3 A11.0,11.0 0 0 1 1152.6,321.0" stroke="#222" stroke-width="1.15" fill="none"/>
<path d="M1197.7,308.5 L1205.2,313.7 A9.1,9.1 0 0 1 1197.7,317.6" stroke="#222" stroke-width="1.15" fill="none"/>
<path d="M1259.8,305.0 L1268.0,310.7 A10.0,10.0 0 0 1 1259.8,315.0" stroke="#222" stroke-width="1.15" fill="none"/>
<path d="M1331.0,293.0 L1340.0,299.3 A11.0,11.0 0 0 1 1331.0,304.0" stroke="#222" stroke-width="1.15" fill="none"/>
<path d="M1398.6,307.4 L1407.0,313.3 A10.2,10.2 0 0 1 1398.6,317.6" stroke="#222" stroke-width="1.15" fill="none"/>
<path d="M1491.2,306.3 L1499.5,312.1 A10.1,10.1 0 0 1 1491.2,316.4" stroke="#222" stroke-width="1.15" fill="none"/>
<path d="M1549.4,304.2 L1558.9,310.9 A11.6,11.6 0 0 1 1549.4,315.8" stroke="#222" stroke-width="1.15" fill="none"/>
<path d="M1618.4,302.2 L1608.8,308.9 A11.7,11.7 0 0 0 1618.4,313.9" stroke="#222" stroke-width="1.15" fill="none"/>
<path d="M1351.3,320.3 L1344.9,308.3 A13.6,13.6 0 0 0 1337.7,320.3" stroke="#222" stroke-width="1.15" fill="none"/>
<path d="M1036.0,334.0 L1041.5,344.4 A11.7,11.7 0 0 0 1047.7,334.0" stroke="#222" stroke-width="1.15" fill="none"/>
<path d="M1123.9,334.1 L1129.2,344.0 A11.2,11.2 0 0 0 1135.1,334.1" stroke="#222" stroke-width="1.15" fill="none"/>
<path d="M1176.3,334.2 L1179.9,341.0 A7.7,7.7 0 0 0 1184.0,334.2" stroke="#222" stroke-width="1.15" fill="none"/>
<path d="M1239.5,334.2 L1243.5,341.7 A8.5,8.5 0 0 0 1248.0,334.2" stroke="#222" stroke-width="1.15" fill="none"/>
<path d="M1296.0,334.3 L1299.1,340.0 A6.5,6.5 0 0 0 1302.5,334.3" stroke="#222" stroke-width="1.15" fill="none"/>
<path d="M1309.5,334.3 L1313.2,341.3 A7.9,7.9 0 0 0 1317.4,334.3" stroke="#222" stroke-width="1.15" fill="none"/>
<path d="M1319.7,334.3 L1322.8,340.2 A6.7,6.7 0 0 0 1326.4,334.3" stroke="#222" stroke-width="1.15" fill="none"/>
<path d="M1362.0,334.3 L1364.6,339.2 A5.5,5.5 0 0 0 1367.5,334.3" stroke="#222" stroke-width="1.15" fill="none"/>
<path d="M1376.0,334.4 L1379.8,341.4 A8.0,8.0 0 0 0 1384.0,334.4" stroke="#222" stroke-width="1.15" fill="none"/>
<path d="M1468.0,334.4 L1472.0,341.9 A8.5,8.5 0 0 0 1476.5,334.4" stroke="#222" stroke-width="1.15" fill="none"/>
<path d="M1527.0,334.5 L1530.8,341.6 A8.0,8.0 0 0 0 1535.0,334.5" stroke="#222" stroke-width="1.15" fill="none"/>
<path d="M1631.6,334.6 L1635.1,341.1 A7.4,7.4 0 0 0 1639.0,334.6" stroke="#222" stroke-width="1.15" fill="none"/>
<path d="M1420,288.2 L1457,287.9" stroke="#1a1a1a" stroke-width="1.72" fill="none"/>
<path d="M1420,291.1 L1446,290.9 L1446,297.9 L1457,297.8" stroke="#1a1a1a" stroke-width="1.38" fill="none"/>
<path d="M1456.0,288.0 L1450.0,276.7 A12.8,12.8 0 0 0 1443.2,288.0" stroke="#222" stroke-width="1.15" fill="none"/>
<path d="M1400.3,297.3 L1407.2,284.4 A14.7,14.7 0 0 1 1415.0,297.3" stroke="#222" stroke-width="1.15" fill="none"/>
<path d="M1058.8,368.1 L1064.8,379.3 A12.7,12.7 0 0 0 1071.5,368.1" stroke="#222" stroke-width="1.15" fill="none"/>
<path d="M1090.1,367.8 L1094.5,376.1 A9.3,9.3 0 0 0 1099.4,367.8" stroke="#222" stroke-width="1.15" fill="none"/>
<path d="M1156.6,367.3 L1161.6,376.8 A10.7,10.7 0 0 0 1167.3,367.3" stroke="#222" stroke-width="1.15" fill="none"/>
<path d="M1202.3,359.7 L1208.5,371.5 A13.3,13.3 0 0 0 1215.6,359.7" stroke="#222" stroke-width="1.15" fill="none"/>
<path d="M1497.3,359.5 L1503.5,371.2 A13.3,13.3 0 0 0 1510.6,359.5" stroke="#222" stroke-width="1.15" fill="none"/>
<path d="M1569.1,359.0 L1561.6,373.1 A16.0,16.0 0 0 1 1553.1,359.0" stroke="#222" stroke-width="1.15" fill="none"/>
<path d="M1615.7,363.4 L1608.8,376.4 A14.7,14.7 0 0 1 1601.0,363.4" stroke="#222" stroke-width="1.15" fill="none"/>
<path d="M1401.8,360.2 L1408.0,371.9 A13.2,13.2 0 0 0 1415.0,360.2" stroke="#222" stroke-width="1.15" fill="none"/>
<path d="M1400.4,390.3 L1404.8,398.5 A9.3,9.3 0 0 0 1409.7,390.3" stroke="#222" stroke-width="1.15" fill="none"/>
<path d="M1455.6,389.9 L1450.6,399.3 A10.6,10.6 0 0 1 1445.0,389.9" stroke="#222" stroke-width="1.15" fill="none"/>
<path d="M1122.0,360.0 L1126.4,351.7 A9.4,9.4 0 0 1 1131.4,360.0" stroke="#222" stroke-width="1.15" fill="none"/>
<path d="M1177.0,360.0 L1180.8,352.9 A8.0,8.0 0 0 1 1185.0,360.0" stroke="#222" stroke-width="1.15" fill="none"/>
<path d="M1187.6,359.9 L1192.0,351.6 A9.4,9.4 0 0 1 1197.0,359.9" stroke="#222" stroke-width="1.15" fill="none"/>
<path d="M1333.9,354.5 L1339.5,343.9 A12.0,12.0 0 0 1 1345.9,354.5" stroke="#222" stroke-width="1.15" fill="none"/>
<path d="M1345.9,354.5 L1351.2,344.5 A11.3,11.3 0 0 1 1357.2,354.5" stroke="#222" stroke-width="1.15" fill="none"/>
<path d="M1376.5,360.5 L1380.3,353.4 A8.0,8.0 0 0 1 1384.5,360.5" stroke="#222" stroke-width="1.15" fill="none"/>
<path d="M1468.6,359.7 L1472.7,352.0 A8.7,8.7 0 0 1 1477.3,359.7" stroke="#222" stroke-width="1.15" fill="none"/>
<path d="M1527.9,359.2 L1532.3,351.0 A9.3,9.3 0 0 1 1537.2,359.2" stroke="#222" stroke-width="1.15" fill="none"/>
<path d="M1631.7,363.2 L1636.1,355.0 A9.3,9.3 0 0 1 1641.0,363.2" stroke="#222" stroke-width="1.15" fill="none"/>
<path d="M1104.0,380.9 L1097.4,385.5 A8.0,8.0 0 0 0 1104.0,388.9" stroke="#222" stroke-width="1.15" fill="none"/>
<path d="M1153.3,380.9 L1159.9,385.5 A8.0,8.0 0 0 1 1153.3,388.9" stroke="#222" stroke-width="1.15" fill="none"/>
<path d="M1202.3,391.5 L1208.9,396.1 A8.0,8.0 0 0 1 1202.3,399.5" stroke="#222" stroke-width="1.15" fill="none"/>
<path d="M1398.4,375.0 L1405.0,379.6 A8.0,8.0 0 0 1 1398.4,383.0" stroke="#222" stroke-width="1.15" fill="none"/>
<path d="M1491.3,376.9 L1497.9,381.5 A8.0,8.0 0 0 1 1491.3,384.9" stroke="#222" stroke-width="1.15" fill="none"/>
<path d="M1549.2,376.9 L1555.8,381.5 A8.0,8.0 0 0 1 1549.2,384.9" stroke="#222" stroke-width="1.15" fill="none"/>
<path d="M1619.0,376.2 L1613.0,380.4 A7.3,7.3 0 0 0 1619.0,383.5" stroke="#222" stroke-width="1.15" fill="none"/>
<line x1="1173.0" y1="334.0" x2="1173.0" y2="362.0" stroke="#1a1a1a" stroke-width="1.49" />
<path d="M1173.0,343.6 L1164.2,349.7 A10.7,10.7 0 0 0 1173.0,354.3" stroke="#222" stroke-width="1.15" fill="none"/>
<path d="M1173.0,354.3 L1181.8,348.2 A10.7,10.7 0 0 0 1173.0,343.6" stroke="#222" stroke-width="1.15" fill="none"/>
<path d="M1400,389.7 L1430,389.5 L1430,397.4 L1445,397.2 L1445,389.3 L1458,389.2" stroke="#1a1a1a" stroke-width="1.49" fill="none"/>
<path d="M816.3,946.0 L810.0,957.9 A13.5,13.5 0 0 1 802.8,946.0" stroke="#222" stroke-width="1.15" fill="none"/>
<path d="M868.3,946.0 L862.9,956.1 A11.4,11.4 0 0 1 856.9,946.0" stroke="#222" stroke-width="1.15" fill="none"/>
<path d="M881.2,946.0 L887.2,957.3 A12.8,12.8 0 0 0 894.0,946.0" stroke="#222" stroke-width="1.15" fill="none"/>
<path d="M958.1,946.0 L964.8,958.6 A14.3,14.3 0 0 0 972.4,946.0" stroke="#222" stroke-width="1.15" fill="none"/>
<path d="M996.0,946.0 L1002.1,957.5 A13.0,13.0 0 0 0 1009.0,946.0" stroke="#222" stroke-width="1.15" fill="none"/>
<path d="M1041.0,946.0 L1046.6,956.6 A12.0,12.0 0 0 0 1053.0,946.0" stroke="#222" stroke-width="1.15" fill="none"/>
<path d="M1072.0,906.5 L1078.1,918.0 A13.0,13.0 0 0 0 1085.0,906.5" stroke="#222" stroke-width="1.15" fill="none"/>
<path d="M1137.0,906.5 L1142.6,917.1 A12.0,12.0 0 0 0 1149.0,906.5" stroke="#222" stroke-width="1.15" fill="none"/>
<path d="M1068.0,869.5 L1073.6,858.9 A12.0,12.0 0 0 1 1080.0,869.5" stroke="#222" stroke-width="1.15" fill="none"/>
<path d="M1150.0,869.5 L1144.4,858.9 A12.0,12.0 0 0 0 1138.0,869.5" stroke="#222" stroke-width="1.15" fill="none"/>
<path d="M1172.0,869.5 L1166.4,858.9 A12.0,12.0 0 0 0 1160.0,869.5" stroke="#222" stroke-width="1.15" fill="none"/>
<path d="M1240.0,869.5 L1234.4,858.9 A12.0,12.0 0 0 0 1228.0,869.5" stroke="#222" stroke-width="1.15" fill="none"/>
<path d="M1087.9,851.0 L1080.5,856.2 A9.0,9.0 0 0 0 1087.9,860.0" stroke="#222" stroke-width="1.15" fill="none"/>
<path d="M1135.8,851.0 L1143.2,856.2 A9.0,9.0 0 0 1 1135.8,860.0" stroke="#222" stroke-width="1.15" fill="none"/>
<path d="M1179.4,851.0 L1172.0,856.2 A9.0,9.0 0 0 0 1179.4,860.0" stroke="#222" stroke-width="1.15" fill="none"/>
<path d="M1227.3,851.0 L1234.7,856.2 A9.0,9.0 0 0 1 1227.3,860.0" stroke="#222" stroke-width="1.15" fill="none"/>
<path d="M1087.2,916.0 L1079.8,921.2 A9.0,9.0 0 0 0 1087.2,925.0" stroke="#222" stroke-width="1.15" fill="none"/>
<path d="M1136.2,916.0 L1143.6,921.2 A9.0,9.0 0 0 1 1136.2,925.0" stroke="#222" stroke-width="1.15" fill="none"/>
<path d="M903.5,921.3 L896.5,926.2 A8.5,8.5 0 0 0 903.5,929.8" stroke="#222" stroke-width="1.15" fill="none"/>
<path d="M955.3,921.3 L962.3,926.2 A8.5,8.5 0 0 1 955.3,929.8" stroke="#222" stroke-width="1.15" fill="none"/>
<path d="M1025.6,850.0 L1032.2,854.6 A8.0,8.0 0 0 1 1025.6,858.0" stroke="#222" stroke-width="1.15" fill="none"/>
<path d="M1063.0,916.0 L1070.4,921.2 A9.0,9.0 0 0 1 1063.0,925.0" stroke="#222" stroke-width="1.15" fill="none"/>
<path d="M1039.0,916.0 L1031.6,921.2 A9.0,9.0 0 0 0 1039.0,925.0" stroke="#222" stroke-width="1.15" fill="none"/>
<path d="M918.2,905.2 L922.2,897.6 A8.6,8.6 0 0 1 926.8,905.2" stroke="#222" stroke-width="1.15" fill="none"/>
<path d="M932.5,905.2 L936.5,897.7 A8.5,8.5 0 0 1 941.0,905.2" stroke="#222" stroke-width="1.15" fill="none"/>
<path d="M1106.0,901.4 L1110.7,892.6 A10.0,10.0 0 0 1 1116.0,901.4" stroke="#222" stroke-width="1.15" fill="none"/>
<path d="M1118.0,901.4 L1122.7,892.6 A10.0,10.0 0 0 1 1128.0,901.4" stroke="#222" stroke-width="1.15" fill="none"/>
<path d="M914.6,877.0 L919.6,886.4 A10.7,10.7 0 0 0 925.3,877.0" stroke="#222" stroke-width="1.15" fill="none"/>
<path d="M926.0,877.0 L931.7,887.8 A12.2,12.2 0 0 0 938.2,877.0" stroke="#222" stroke-width="1.15" fill="none"/>
<path d="M1105.0,880.0 L1110.2,889.7 A11.0,11.0 0 0 0 1116.0,880.0" stroke="#222" stroke-width="1.15" fill="none"/>
<path d="M1196.0,879.5 L1201.2,889.2 A11.0,11.0 0 0 0 1207.0,879.5" stroke="#222" stroke-width="1.15" fill="none"/>
<path d="M1005.0,877.0 L1009.2,884.9 A9.0,9.0 0 0 0 1014.0,877.0" stroke="#222" stroke-width="1.15" fill="none"/>
<path d="M1019.6,905.0 L1025.4,915.9 A12.3,12.3 0 0 0 1031.9,905.0" stroke="#222" stroke-width="1.15" fill="none"/>
<path d="M825.8,813.0 L815.2,805.5 A13.0,13.0 0 0 1 825.8,800.0" stroke="#222" stroke-width="1.15" fill="none"/>
<path d="M825.8,833.0 L814.3,825.0 A14.0,14.0 0 0 1 825.8,819.0" stroke="#222" stroke-width="1.15" fill="none"/>
<path d="M825.8,877.0 L814.3,869.0 A14.0,14.0 0 0 1 825.8,863.0" stroke="#222" stroke-width="1.15" fill="none"/>
<path d="M825.8,903.0 L817.6,897.3 A10.0,10.0 0 0 1 825.8,893.0" stroke="#222" stroke-width="1.15" fill="none"/>
<path d="M870.0,772.0 L879.8,778.9 A12.0,12.0 0 0 1 870.0,784.0" stroke="#222" stroke-width="1.15" fill="none"/>
<path d="M870.0,896.0 L878.2,901.7 A10.0,10.0 0 0 1 870.0,906.0" stroke="#222" stroke-width="1.15" fill="none"/>
<path d="M870.0,917.0 L878.2,911.3 A10.0,10.0 0 0 0 870.0,907.0" stroke="#222" stroke-width="1.15" fill="none"/>
<path d="M842.7,931.0 L847.1,939.2 A9.3,9.3 0 0 0 852.0,931.0" stroke="#222" stroke-width="1.15" fill="none"/>
<path d="M842.7,879.5 L847.1,871.3 A9.3,9.3 0 0 1 852.0,879.5" stroke="#222" stroke-width="1.15" fill="none"/>
<path d="M880.0,765.5 L887.0,752.3 A15.0,15.0 0 0 1 895.0,765.5" stroke="#222" stroke-width="1.15" fill="none"/>
<path d="M870,906 A14,14 0 0 0 884,920 L884,906" stroke="#1a1a1a" stroke-width="1.15" fill="none"/>
<path d="M1000.0,881.4 L990.7,887.9 A11.4,11.4 0 0 0 1000.0,892.8" stroke="#222" stroke-width="1.15" fill="none"/>
<path d="M1000.0,790.0 L991.8,795.7 A10.0,10.0 0 0 0 1000.0,800.0" stroke="#222" stroke-width="1.15" fill="none"/>
<path d="M1066.5,879.0 L1078.0,887.0 A14.0,14.0 0 0 1 1066.5,893.0" stroke="#222" stroke-width="1.15" fill="none"/>
<path d="M1047.0,868.2 L1040.4,855.8 A14.0,14.0 0 0 0 1033.0,868.2" stroke="#222" stroke-width="1.15" fill="none"/>
<line x1="999.2" y1="868.0" x2="999.2" y2="904.0" stroke="#1a1a1a" stroke-width="1.49" />
<line x1="1001.5" y1="868.0" x2="1001.5" y2="904.0" stroke="#1a1a1a" stroke-width="1.26" />
<line x1="1000.0" y1="904.0" x2="1066.0" y2="903.5" stroke="#1a1a1a" stroke-width="1.49" />
<path d="M1258.2,777.0 L1268.8,784.5 A13.0,13.0 0 0 1 1258.2,790.0" stroke="#222" stroke-width="1.15" fill="none"/>
<path d="M1258.2,803.0 L1268.8,795.5 A13.0,13.0 0 0 0 1258.2,790.0" stroke="#222" stroke-width="1.15" fill="none"/>
<path d="M1258.2,865.0 L1268.8,872.5 A13.0,13.0 0 0 1 1258.2,878.0" stroke="#222" stroke-width="1.15" fill="none"/>
<path d="M1258.2,891.0 L1268.8,883.5 A13.0,13.0 0 0 0 1258.2,878.0" stroke="#222" stroke-width="1.15" fill="none"/>
<path d="M763.0,946.0 L751.5,954.0 A14.0,14.0 0 0 0 763.0,960.0" stroke="#222" stroke-width="1.15" fill="none"/>
<path d="M951.0,1007.2 L954.8,1014.2 A8.0,8.0 0 0 0 959.0,1007.2" stroke="#222" stroke-width="1.15" fill="none"/>
<path d="M967.0,1007.1 L963.2,1014.2 A8.0,8.0 0 0 1 959.0,1007.1" stroke="#222" stroke-width="1.15" fill="none"/>
<path d="M1029.0,1006.6 L1034.6,1017.2 A12.0,12.0 0 0 0 1041.0,1006.6" stroke="#222" stroke-width="1.15" fill="none"/>
<path d="M1053.0,1006.6 L1047.4,1017.1 A12.0,12.0 0 0 1 1041.0,1006.6" stroke="#222" stroke-width="1.15" fill="none"/>
<path d="M1168.6,1005.7 L1173.8,1015.4 A11.0,11.0 0 0 0 1179.6,1005.7" stroke="#222" stroke-width="1.15" fill="none"/>
<path d="M1190.6,1005.6 L1185.4,1015.3 A11.0,11.0 0 0 1 1179.6,1005.6" stroke="#222" stroke-width="1.15" fill="none"/>
<path d="M1210.5,1005.4 L1216.1,1016.0 A12.0,12.0 0 0 0 1222.5,1005.4" stroke="#222" stroke-width="1.15" fill="none"/>
<path d="M1234.5,1005.3 L1228.9,1015.9 A12.0,12.0 0 0 1 1222.5,1005.3" stroke="#222" stroke-width="1.15" fill="none"/>
<path d="M1296.0,476.9 L1302.1,488.4 A13.0,13.0 0 0 0 1309.0,476.9" stroke="#222" stroke-width="1.15" fill="none"/>
<path d="M1355.0,476.1 L1361.1,487.6 A13.0,13.0 0 0 0 1368.0,476.1" stroke="#222" stroke-width="1.15" fill="none"/>
<path d="M1642.3,340.0 L1652.1,346.9 A12.0,12.0 0 0 1 1642.3,352.0" stroke="#222" stroke-width="1.15" fill="none"/>
<line x1="1021.5" y1="203.8" x2="1021.5" y2="264.5" stroke="#1a1a1a" stroke-width="1.49" />
<rect x="1010.3" y="145.7" width="21.9" height="58.1" stroke="#222" stroke-width="1.44" fill="#fff" />
<text x="1021.2" y="181.6" transform="rotate(-90 1021.2 174.8)" text-anchor="middle" class="lb">144/3</text>
<line x1="1062.0" y1="203.2" x2="1062.0" y2="264.0" stroke="#1a1a1a" stroke-width="1.49" />
<rect x="1051.0" y="145.0" width="22.3" height="58.2" stroke="#222" stroke-width="1.44" fill="#fff" />
<text x="1062.2" y="180.9" transform="rotate(-90 1062.2 174.1)" text-anchor="middle" class="lb">144/4</text>
<line x1="1104.4" y1="203.2" x2="1104.4" y2="263.5" stroke="#1a1a1a" stroke-width="1.49" />
<rect x="1093.1" y="144.3" width="22.3" height="58.9" stroke="#222" stroke-width="1.44" fill="#fff" />
<text x="1104.2" y="180.6" transform="rotate(-90 1104.2 173.8)" text-anchor="middle" class="lb">144/5</text>
<line x1="1153.8" y1="202.8" x2="1153.8" y2="263.0" stroke="#1a1a1a" stroke-width="1.49" />
<rect x="1142.5" y="144.1" width="22.3" height="58.7" stroke="#222" stroke-width="1.44" fill="#fff" />
<text x="1153.7" y="180.3" transform="rotate(-90 1153.7 173.4)" text-anchor="middle" class="lb">144/6</text>
<line x1="1202.0" y1="202.2" x2="1202.0" y2="262.3" stroke="#1a1a1a" stroke-width="1.49" />
<rect x="1189.6" y="143.7" width="23.7" height="58.5" stroke="#222" stroke-width="1.44" fill="#fff" />
<text x="1201.4" y="179.8" transform="rotate(-90 1201.4 172.9)" text-anchor="middle" class="lb">145</text>
<line x1="1261.5" y1="201.5" x2="1261.5" y2="262.0" stroke="#1a1a1a" stroke-width="1.49" />
<rect x="1251.0" y="143.3" width="22.0" height="58.2" stroke="#222" stroke-width="1.44" fill="#fff" />
<text x="1262.0" y="179.2" transform="rotate(-90 1262.0 172.4)" text-anchor="middle" class="lb">146</text>
<line x1="1333.1" y1="201.3" x2="1333.1" y2="261.5" stroke="#1a1a1a" stroke-width="1.49" />
<rect x="1322.0" y="143.1" width="22.2" height="58.2" stroke="#222" stroke-width="1.44" fill="#fff" />
<text x="1333.1" y="179.0" transform="rotate(-90 1333.1 172.2)" text-anchor="middle" class="lb">147</text>
<line x1="1385.8" y1="200.5" x2="1385.8" y2="261.7" stroke="#1a1a1a" stroke-width="1.49" />
<rect x="1374.4" y="142.5" width="21.9" height="58.0" stroke="#222" stroke-width="1.44" fill="#fff" />
<text x="1385.3" y="178.3" transform="rotate(-90 1385.3 171.5)" text-anchor="middle" class="lb">148/1</text>
<line x1="1419.1" y1="200.1" x2="1419.1" y2="311.4" stroke="#1a1a1a" stroke-width="1.49" />
<rect x="1408.0" y="142.3" width="22.3" height="57.8" stroke="#222" stroke-width="1.44" fill="#fff" />
<text x="1419.2" y="178.0" transform="rotate(-90 1419.2 171.2)" text-anchor="middle" class="lb">148</text>
<line x1="1448.8" y1="199.8" x2="1448.8" y2="260.0" stroke="#1a1a1a" stroke-width="1.49" />
<rect x="1438.0" y="142.0" width="21.6" height="57.8" stroke="#222" stroke-width="1.44" fill="#fff" />
<text x="1448.8" y="177.7" transform="rotate(-90 1448.8 170.9)" text-anchor="middle" class="lb">148/2</text>
<line x1="1486.2" y1="199.2" x2="1486.2" y2="259.4" stroke="#1a1a1a" stroke-width="1.49" />
<rect x="1475.1" y="141.4" width="22.5" height="57.8" stroke="#222" stroke-width="1.44" fill="#fff" />
<text x="1486.3" y="177.1" transform="rotate(-90 1486.3 170.3)" text-anchor="middle" class="lb">149</text>
<line x1="1546.4" y1="199.1" x2="1546.4" y2="258.0" stroke="#1a1a1a" stroke-width="1.49" />
<rect x="1535.4" y="141.0" width="22.6" height="58.1" stroke="#222" stroke-width="1.44" fill="#fff" />
<text x="1546.7" y="176.9" transform="rotate(-90 1546.7 170.1)" text-anchor="middle" class="lb">150</text>
<line x1="1618.6" y1="198.7" x2="1618.6" y2="257.7" stroke="#1a1a1a" stroke-width="1.49" />
<rect x="1607.8" y="140.6" width="21.9" height="58.1" stroke="#222" stroke-width="1.44" fill="#fff" />
<text x="1618.8" y="176.5" transform="rotate(-90 1618.8 169.6)" text-anchor="middle" class="lb">151</text>
<line x1="1046.3" y1="432.1" x2="1046.3" y2="521.6" stroke="#1a1a1a" stroke-width="1.49" />
<rect x="1035.0" y="521.6" width="22.6" height="58.0" stroke="#222" stroke-width="1.44" fill="#fff" />
<text x="1046.3" y="557.4" transform="rotate(-90 1046.3 550.6)" text-anchor="middle" class="lb">144</text>
<line x1="1105.0" y1="431.4" x2="1105.0" y2="521.3" stroke="#1a1a1a" stroke-width="1.49" />
<rect x="1094.3" y="521.3" width="22.0" height="58.0" stroke="#222" stroke-width="1.44" fill="#fff" />
<text x="1105.3" y="557.1" transform="rotate(-90 1105.3 550.3)" text-anchor="middle" class="lb">144/2</text>
<line x1="1146.0" y1="431.4" x2="1146.0" y2="520.7" stroke="#1a1a1a" stroke-width="1.49" />
<rect x="1135.1" y="520.7" width="22.2" height="58.3" stroke="#222" stroke-width="1.44" fill="#fff" />
<text x="1146.2" y="556.7" transform="rotate(-90 1146.2 549.9)" text-anchor="middle" class="lb">144/1</text>
<line x1="1207.8" y1="430.1" x2="1207.8" y2="520.0" stroke="#1a1a1a" stroke-width="1.49" />
<rect x="1196.2" y="520.0" width="22.6" height="58.8" stroke="#222" stroke-width="1.44" fill="#fff" />
<text x="1207.5" y="556.2" transform="rotate(-90 1207.5 549.4)" text-anchor="middle" class="lb">143</text>
<line x1="1381.9" y1="438.8" x2="1381.9" y2="519.3" stroke="#1a1a1a" stroke-width="1.49" />
<rect x="1371.1" y="519.3" width="21.7" height="57.6" stroke="#222" stroke-width="1.44" fill="#fff" />
<text x="1381.9" y="554.9" transform="rotate(-90 1381.9 548.1)" text-anchor="middle" class="lb">155/2</text>
<line x1="1411.0" y1="380.2" x2="1411.0" y2="519.1" stroke="#1a1a1a" stroke-width="1.49" />
<rect x="1399.7" y="519.1" width="21.9" height="57.8" stroke="#222" stroke-width="1.44" fill="#fff" />
<text x="1410.7" y="554.8" transform="rotate(-90 1410.7 548.0)" text-anchor="middle" class="lb">155</text>
<line x1="1440.6" y1="438.8" x2="1440.6" y2="518.4" stroke="#1a1a1a" stroke-width="1.49" />
<rect x="1428.4" y="518.4" width="22.8" height="58.0" stroke="#222" stroke-width="1.44" fill="#fff" />
<text x="1439.8" y="554.2" transform="rotate(-90 1439.8 547.4)" text-anchor="middle" class="lb">155/1</text>
<line x1="1489.6" y1="438.1" x2="1489.6" y2="536.7" stroke="#1a1a1a" stroke-width="1.49" />
<rect x="1478.5" y="536.7" width="22.6" height="58.5" stroke="#222" stroke-width="1.44" fill="#fff" />
<text x="1489.8" y="572.8" transform="rotate(-90 1489.8 566.0)" text-anchor="middle" class="lb">154</text>
<line x1="1558.7" y1="437.4" x2="1558.7" y2="517.4" stroke="#1a1a1a" stroke-width="1.49" />
<rect x="1547.6" y="517.4" width="22.3" height="57.8" stroke="#222" stroke-width="1.44" fill="#fff" />
<text x="1558.8" y="553.1" transform="rotate(-90 1558.8 546.3)" text-anchor="middle" class="lb">153</text>
<line x1="1614.0" y1="436.5" x2="1614.0" y2="516.7" stroke="#1a1a1a" stroke-width="1.49" />
<rect x="1603.4" y="516.7" width="21.7" height="58.0" stroke="#222" stroke-width="1.44" fill="#fff" />
<text x="1614.2" y="552.5" transform="rotate(-90 1614.2 545.7)" text-anchor="middle" class="lb">152</text>
<line x1="1034.0" y1="707.0" x2="1034.0" y2="796.7" stroke="#1a1a1a" stroke-width="1.49" />
<rect x="1023.5" y="649.3" width="22.1" height="57.7" stroke="#222" stroke-width="1.44" fill="#fff" />
<text x="1034.5" y="685.0" transform="rotate(-90 1034.5 678.1)" text-anchor="middle" class="lb">74</text>
<line x1="1087.0" y1="706.6" x2="1087.0" y2="797.5" stroke="#1a1a1a" stroke-width="1.49" />
<rect x="1076.0" y="648.6" width="22.1" height="58.0" stroke="#222" stroke-width="1.44" fill="#fff" />
<text x="1087.0" y="684.4" transform="rotate(-90 1087.0 677.6)" text-anchor="middle" class="lb">75/1</text>
<line x1="1130.4" y1="706.3" x2="1130.4" y2="797.5" stroke="#1a1a1a" stroke-width="1.49" />
<rect x="1119.3" y="648.3" width="22.1" height="58.0" stroke="#222" stroke-width="1.44" fill="#fff" />
<text x="1130.3" y="684.1" transform="rotate(-90 1130.3 677.3)" text-anchor="middle" class="lb">75/2</text>
<line x1="1179.9" y1="705.8" x2="1179.9" y2="796.8" stroke="#1a1a1a" stroke-width="1.49" />
<rect x="1168.5" y="648.1" width="22.5" height="57.7" stroke="#222" stroke-width="1.44" fill="#fff" />
<text x="1179.8" y="683.8" transform="rotate(-90 1179.8 677.0)" text-anchor="middle" class="lb">75/3</text>
<line x1="1228.1" y1="705.6" x2="1228.1" y2="795.3" stroke="#1a1a1a" stroke-width="1.49" />
<rect x="1217.0" y="647.6" width="22.2" height="58.0" stroke="#222" stroke-width="1.44" fill="#fff" />
<text x="1228.1" y="683.4" transform="rotate(-90 1228.1 676.6)" text-anchor="middle" class="lb">75/4</text>
<line x1="796.2" y1="984.0" x2="796.2" y2="1038.8" stroke="#1a1a1a" stroke-width="1.49" />
<rect x="785.2" y="1038.8" width="22.3" height="57.7" stroke="#222" stroke-width="1.44" fill="#fff" />
<text x="796.4" y="1074.5" transform="rotate(-90 796.4 1067.7)" text-anchor="middle" class="lb">77/3</text>
<line x1="850.5" y1="982.3" x2="850.5" y2="1038.3" stroke="#1a1a1a" stroke-width="1.49" />
<rect x="839.5" y="1038.3" width="22.3" height="57.7" stroke="#222" stroke-width="1.44" fill="#fff" />
<text x="850.6" y="1074.0" transform="rotate(-90 850.6 1067.2)" text-anchor="middle" class="lb">77/2</text>
<line x1="905.9" y1="982.5" x2="905.9" y2="1038.0" stroke="#1a1a1a" stroke-width="1.49" />
<rect x="895.1" y="1038.0" width="22.3" height="57.7" stroke="#222" stroke-width="1.44" fill="#fff" />
<text x="906.2" y="1073.7" transform="rotate(-90 906.2 1066.8)" text-anchor="middle" class="lb">77/1</text>
<line x1="951.0" y1="981.4" x2="951.0" y2="1037.5" stroke="#1a1a1a" stroke-width="1.49" />
<rect x="939.7" y="1037.5" width="22.5" height="57.7" stroke="#222" stroke-width="1.44" fill="#fff" />
<text x="951.0" y="1073.2" transform="rotate(-90 951.0 1066.3)" text-anchor="middle" class="lb">76/3</text>
<line x1="980.3" y1="930.6" x2="980.3" y2="1037.5" stroke="#1a1a1a" stroke-width="1.49" />
<rect x="969.3" y="1037.5" width="21.8" height="57.7" stroke="#222" stroke-width="1.44" fill="#fff" />
<text x="980.2" y="1073.2" transform="rotate(-90 980.2 1066.3)" text-anchor="middle" class="lb">76</text>
<line x1="1005.5" y1="983.2" x2="1005.5" y2="1037.5" stroke="#1a1a1a" stroke-width="1.49" />
<rect x="994.8" y="1037.5" width="21.7" height="57.7" stroke="#222" stroke-width="1.44" fill="#fff" />
<text x="1005.6" y="1073.2" transform="rotate(-90 1005.6 1066.3)" text-anchor="middle" class="lb">76/2</text>
<line x1="1040.1" y1="981.0" x2="1040.1" y2="1036.7" stroke="#1a1a1a" stroke-width="1.49" />
<rect x="1029.6" y="1036.7" width="21.8" height="58.2" stroke="#222" stroke-width="1.44" fill="#fff" />
<text x="1040.5" y="1072.6" transform="rotate(-90 1040.5 1065.8)" text-anchor="middle" class="lb">76/1</text>
<line x1="1090.5" y1="981.3" x2="1090.5" y2="1036.7" stroke="#1a1a1a" stroke-width="1.49" />
<rect x="1079.5" y="1036.7" width="23.6" height="57.7" stroke="#222" stroke-width="1.44" fill="#fff" />
<text x="1091.3" y="1072.4" transform="rotate(-90 1091.3 1065.6)" text-anchor="middle" class="lb">75/6</text>
<line x1="1135.1" y1="980.4" x2="1135.1" y2="1036.2" stroke="#1a1a1a" stroke-width="1.49" />
<rect x="1123.5" y="1036.2" width="22.8" height="57.7" stroke="#222" stroke-width="1.44" fill="#fff" />
<text x="1134.9" y="1071.9" transform="rotate(-90 1134.9 1065.1)" text-anchor="middle" class="lb">75/5</text>
<line x1="1203.3" y1="979.8" x2="1203.3" y2="1035.7" stroke="#1a1a1a" stroke-width="1.49" />
<rect x="1192.2" y="1035.7" width="23.6" height="57.7" stroke="#222" stroke-width="1.44" fill="#fff" />
<text x="1204.0" y="1071.4" transform="rotate(-90 1204.0 1064.6)" text-anchor="middle" class="lb">75</text>
<line x1="672.4" y1="794.6" x2="782.5" y2="794.3" stroke="#1a1a1a" stroke-width="1.49" />
<rect x="615.7" y="784.1" width="56.7" height="21.6" stroke="#222" stroke-width="1.44" fill="#fff" />
<text x="644.0" y="801.7" text-anchor="middle" class="lb">78/3</text>
<line x1="672.4" y1="833.0" x2="782.5" y2="832.7" stroke="#1a1a1a" stroke-width="1.49" />
<rect x="615.7" y="822.5" width="56.7" height="21.4" stroke="#222" stroke-width="1.44" fill="#fff" />
<text x="644.0" y="840.0" text-anchor="middle" class="lb">78/2</text>
<line x1="672.4" y1="861.0" x2="841.0" y2="860.7" stroke="#1a1a1a" stroke-width="1.49" />
<rect x="615.7" y="850.2" width="56.7" height="21.4" stroke="#222" stroke-width="1.44" fill="#fff" />
<text x="644.0" y="867.7" text-anchor="middle" class="lb">78</text>
<line x1="672.4" y1="888.0" x2="782.5" y2="887.7" stroke="#1a1a1a" stroke-width="1.49" />
<rect x="614.7" y="878.5" width="57.7" height="21.0" stroke="#222" stroke-width="1.44" fill="#fff" />
<text x="643.5" y="895.8" text-anchor="middle" class="lb">78/1</text>
<line x1="672.4" y1="928.8" x2="781.4" y2="928.5" stroke="#1a1a1a" stroke-width="1.49" />
<rect x="615.7" y="918.8" width="56.7" height="21.6" stroke="#222" stroke-width="1.44" fill="#fff" />
<text x="644.0" y="936.4" text-anchor="middle" class="lb">77</text>
<rect x="1002.0" y="264.5" width="29.3" height="11.9" stroke="#222" stroke-width="1.49" fill="#fff" />
<text x="1016.6" y="273.4" text-anchor="middle" font-size="8.6" font-weight="bold" fill="#333" textLength="25.3" lengthAdjust="spacingAndGlyphs">CB/01</text>
<rect x="1045.5" y="264.0" width="29.1" height="11.5" stroke="#222" stroke-width="1.49" fill="#fff" />
<text x="1060.0" y="272.8" text-anchor="middle" font-size="8.6" font-weight="bold" fill="#333" textLength="25.1" lengthAdjust="spacingAndGlyphs">CA/04</text>
<rect x="1092.5" y="263.5" width="29.0" height="11.5" stroke="#222" stroke-width="1.49" fill="#fff" />
<text x="1107.0" y="272.2" text-anchor="middle" font-size="8.6" font-weight="bold" fill="#333" textLength="25.0" lengthAdjust="spacingAndGlyphs">CA/05</text>
<rect x="1135.0" y="262.5" width="29.0" height="11.5" stroke="#222" stroke-width="1.49" fill="#fff" />
<text x="1149.5" y="271.2" text-anchor="middle" font-size="8.6" font-weight="bold" fill="#333" textLength="25.0" lengthAdjust="spacingAndGlyphs">CA/06</text>
<rect x="1183.6" y="262.3" width="28.8" height="10.7" stroke="#c94a5a" stroke-width="1.26" fill="#eb98a2" />
<text x="1198.0" y="270.6" text-anchor="middle" font-size="8.6" font-weight="bold" fill="#c23048" textLength="24.8" lengthAdjust="spacingAndGlyphs">SB/01</text>
<rect x="1248.0" y="261.5" width="29.0" height="11.0" stroke="#c94a5a" stroke-width="1.26" fill="#eb98a2" />
<text x="1262.5" y="270.0" text-anchor="middle" font-size="8.6" font-weight="bold" fill="#c23048" textLength="25.0" lengthAdjust="spacingAndGlyphs">SB/02</text>
<rect x="1320.0" y="260.5" width="29.0" height="10.5" stroke="#c94a5a" stroke-width="1.26" fill="#eb98a2" />
<text x="1334.5" y="268.8" text-anchor="middle" font-size="8.6" font-weight="bold" fill="#c23048" textLength="25.0" lengthAdjust="spacingAndGlyphs">PS/01</text>
<rect x="1377.0" y="261.7" width="29.5" height="11.3" stroke="#222" stroke-width="1.49" fill="#fff" />
<text x="1391.8" y="270.4" text-anchor="middle" font-size="8.6" font-weight="bold" fill="#333" textLength="25.5" lengthAdjust="spacingAndGlyphs">BA/01</text>
<rect x="1422.3" y="260.0" width="28.3" height="11.3" stroke="#111" stroke-width="1.61" fill="#fff" />
<text x="1436.4" y="268.6" text-anchor="middle" font-size="8.6" font-weight="bold" fill="#111" stroke="#111" stroke-width="0.35" textLength="24.3" lengthAdjust="spacingAndGlyphs">BA/02</text>
<rect x="1415.6" y="311.4" width="28.7" height="12.4" stroke="#222" stroke-width="1.49" fill="#fff" />
<text x="1429.9" y="320.6" text-anchor="middle" font-size="8.6" font-weight="bold" fill="#333" textLength="24.7" lengthAdjust="spacingAndGlyphs">ML/01</text>
<rect x="1483.3" y="259.4" width="29.3" height="11.3" stroke="#c94a5a" stroke-width="1.26" fill="#eb98a2" />
<text x="1497.9" y="268.0" text-anchor="middle" font-size="8.6" font-weight="bold" fill="#c23048" textLength="25.3" lengthAdjust="spacingAndGlyphs">SB/03</text>
<rect x="1538.7" y="258.0" width="30.0" height="11.7" stroke="#c94a5a" stroke-width="1.26" fill="#eb98a2" />
<text x="1553.7" y="266.9" text-anchor="middle" font-size="8.6" font-weight="bold" fill="#c23048" textLength="26.0" lengthAdjust="spacingAndGlyphs">SB/04</text>
<rect x="1601.0" y="257.7" width="30.6" height="11.6" stroke="#c94a5a" stroke-width="1.26" fill="#eb98a2" />
<text x="1616.3" y="266.5" text-anchor="middle" font-size="8.6" font-weight="bold" fill="#c23048" textLength="26.6" lengthAdjust="spacingAndGlyphs">SB/05</text>
<rect x="1026.9" y="420.5" width="29.3" height="11.6" stroke="#222" stroke-width="1.49" fill="#fff" />
<text x="1041.6" y="429.3" text-anchor="middle" font-size="8.6" font-weight="bold" fill="#333" textLength="25.3" lengthAdjust="spacingAndGlyphs">L/01</text>
<rect x="1090.1" y="420.1" width="29.3" height="11.3" stroke="#222" stroke-width="1.49" fill="#fff" />
<text x="1104.8" y="428.8" text-anchor="middle" font-size="8.6" font-weight="bold" fill="#333" textLength="25.3" lengthAdjust="spacingAndGlyphs">CA/02</text>
<rect x="1135.3" y="419.7" width="29.3" height="11.7" stroke="#222" stroke-width="1.49" fill="#fff" />
<text x="1149.9" y="428.5" text-anchor="middle" font-size="8.6" font-weight="bold" fill="#333" textLength="25.3" lengthAdjust="spacingAndGlyphs">CA/01</text>
<rect x="1193.0" y="418.1" width="27.9" height="12.0" stroke="#c94a5a" stroke-width="1.26" fill="#eb98a2" />
<text x="1207.0" y="427.1" text-anchor="middle" font-size="8.6" font-weight="bold" fill="#c23048" textLength="23.9" lengthAdjust="spacingAndGlyphs">SA/01</text>
<rect x="1410.4" y="370.2" width="27.9" height="10.0" stroke="#222" stroke-width="1.49" fill="#fff" />
<text x="1424.3" y="378.2" text-anchor="middle" font-size="8.6" font-weight="bold" fill="#333" textLength="23.9" lengthAdjust="spacingAndGlyphs">ML/02</text>
<rect x="1377.8" y="427.4" width="29.9" height="11.4" stroke="#222" stroke-width="1.49" fill="#fff" />
<text x="1392.8" y="436.1" text-anchor="middle" font-size="8.6" font-weight="bold" fill="#333" textLength="25.9" lengthAdjust="spacingAndGlyphs">BA/04</text>
<rect x="1423.0" y="426.8" width="29.3" height="12.0" stroke="#111" stroke-width="1.61" fill="#fff" />
<text x="1437.7" y="435.8" text-anchor="middle" font-size="8.6" font-weight="bold" fill="#111" stroke="#111" stroke-width="0.35" textLength="25.3" lengthAdjust="spacingAndGlyphs">BA/03</text>
<rect x="1479.3" y="425.9" width="31.0" height="12.2" stroke="#c94a5a" stroke-width="1.26" fill="#eb98a2" />
<text x="1494.8" y="435.0" text-anchor="middle" font-size="8.6" font-weight="bold" fill="#c23048" textLength="27.0" lengthAdjust="spacingAndGlyphs">SC/02</text>
<rect x="1542.8" y="425.5" width="30.3" height="11.9" stroke="#c94a5a" stroke-width="1.26" fill="#eb98a2" />
<text x="1557.9" y="434.4" text-anchor="middle" font-size="8.6" font-weight="bold" fill="#c23048" textLength="26.3" lengthAdjust="spacingAndGlyphs">SC/03</text>
<rect x="1601.3" y="425.0" width="30.4" height="11.5" stroke="#c94a5a" stroke-width="1.26" fill="#eb98a2" />
<text x="1616.5" y="433.8" text-anchor="middle" font-size="8.6" font-weight="bold" fill="#c23048" textLength="26.4" lengthAdjust="spacingAndGlyphs">SC/01</text>
<rect x="782.5" y="788.3" width="29.7" height="10.5" stroke="#222" stroke-width="1.49" fill="#fff" />
<text x="797.4" y="796.5" text-anchor="middle" font-size="8.6" font-weight="bold" fill="#333" textLength="25.7" lengthAdjust="spacingAndGlyphs">BB/06</text>
<rect x="782.5" y="828.2" width="31.0" height="10.4" stroke="#222" stroke-width="1.49" fill="#fff" />
<text x="798.0" y="836.4" text-anchor="middle" font-size="8.6" font-weight="bold" fill="#333" textLength="27.0" lengthAdjust="spacingAndGlyphs">BB/05</text>
<rect x="782.5" y="881.6" width="28.3" height="10.9" stroke="#111" stroke-width="1.61" fill="#fff" />
<text x="796.6" y="890.0" text-anchor="middle" font-size="8.6" font-weight="bold" fill="#111" stroke="#111" stroke-width="0.35" textLength="24.3" lengthAdjust="spacingAndGlyphs">BB/03</text>
<rect x="781.4" y="922.5" width="29.4" height="10.5" stroke="#222" stroke-width="1.49" fill="#fff" />
<text x="796.1" y="930.8" text-anchor="middle" font-size="8.6" font-weight="bold" fill="#333" textLength="25.4" lengthAdjust="spacingAndGlyphs">NL/02</text>
<rect x="783.5" y="972.9" width="28.7" height="11.1" stroke="#222" stroke-width="1.49" fill="#fff" />
<text x="797.9" y="981.5" text-anchor="middle" font-size="8.6" font-weight="bold" fill="#333" textLength="24.7" lengthAdjust="spacingAndGlyphs">BE/01</text>
<rect x="833.2" y="971.8" width="29.0" height="10.5" stroke="#222" stroke-width="1.49" fill="#fff" />
<text x="847.7" y="980.0" text-anchor="middle" font-size="8.6" font-weight="bold" fill="#333" textLength="25.0" lengthAdjust="spacingAndGlyphs">BD/02</text>
<rect x="831.7" y="839.7" width="28.3" height="10.5" stroke="#222" stroke-width="1.49" fill="#fff" />
<text x="845.9" y="848.0" text-anchor="middle" font-size="8.6" font-weight="bold" fill="#333" textLength="24.3" lengthAdjust="spacingAndGlyphs">NL/03</text>
<rect x="1019.8" y="796.7" width="29.2" height="12.8" stroke="#c94a5a" stroke-width="1.26" fill="#eb98a2" />
<text x="1034.4" y="806.1" text-anchor="middle" font-size="8.6" font-weight="bold" fill="#c23048" textLength="25.2" lengthAdjust="spacingAndGlyphs">BD/01</text>
<rect x="977.9" y="919.5" width="29.5" height="11.1" stroke="#222" stroke-width="1.49" fill="#fff" />
<text x="992.6" y="928.0" text-anchor="middle" font-size="8.6" font-weight="bold" fill="#333" textLength="25.5" lengthAdjust="spacingAndGlyphs">NL/01</text>
<rect x="890.5" y="971.8" width="29.3" height="10.7" stroke="#111" stroke-width="1.61" fill="#fff" />
<text x="905.1" y="980.1" text-anchor="middle" font-size="8.6" font-weight="bold" fill="#111" stroke="#111" stroke-width="0.35" textLength="25.3" lengthAdjust="spacingAndGlyphs">BD01</text>
<rect x="933.7" y="971.2" width="29.3" height="10.2" stroke="#111" stroke-width="1.61" fill="#fff" />
<text x="948.4" y="979.3" text-anchor="middle" font-size="8.6" font-weight="bold" fill="#111" stroke="#111" stroke-width="0.35" textLength="25.3" lengthAdjust="spacingAndGlyphs">BB/03</text>
<rect x="983.5" y="971.8" width="29.9" height="11.4" stroke="#222" stroke-width="1.49" fill="#fff" />
<text x="998.5" y="980.5" text-anchor="middle" font-size="8.6" font-weight="bold" fill="#333" textLength="25.9" lengthAdjust="spacingAndGlyphs">BB/02</text>
<rect x="1027.7" y="970.3" width="28.8" height="10.7" stroke="#111" stroke-width="1.61" fill="#fff" />
<text x="1042.1" y="978.6" text-anchor="middle" font-size="8.6" font-weight="bold" fill="#111" stroke="#111" stroke-width="0.35" textLength="24.8" lengthAdjust="spacingAndGlyphs">BB/01</text>
<rect x="1076.3" y="797.5" width="29.4" height="11.3" stroke="#111" stroke-width="1.61" fill="#fff" />
<text x="1091.0" y="806.1" text-anchor="middle" font-size="8.6" font-weight="bold" fill="#111" stroke="#111" stroke-width="0.35" textLength="25.4" lengthAdjust="spacingAndGlyphs">CA/10</text>
<rect x="1117.7" y="797.5" width="29.9" height="11.3" stroke="#222" stroke-width="1.49" fill="#fff" />
<text x="1132.7" y="806.1" text-anchor="middle" font-size="8.6" font-weight="bold" fill="#333" textLength="25.9" lengthAdjust="spacingAndGlyphs">CA/09</text>
<rect x="1166.7" y="796.8" width="28.8" height="11.6" stroke="#111" stroke-width="1.61" fill="#fff" />
<text x="1181.1" y="805.6" text-anchor="middle" font-size="8.6" font-weight="bold" fill="#111" stroke="#111" stroke-width="0.35" textLength="24.8" lengthAdjust="spacingAndGlyphs">CA/08</text>
<rect x="1213.1" y="795.3" width="29.4" height="11.3" stroke="#222" stroke-width="1.49" fill="#fff" />
<text x="1227.8" y="804.0" text-anchor="middle" font-size="8.6" font-weight="bold" fill="#333" textLength="25.4" lengthAdjust="spacingAndGlyphs">CA/07</text>
<rect x="1074.2" y="970.4" width="29.4" height="10.9" stroke="#222" stroke-width="1.49" fill="#fff" />
<text x="1088.9" y="978.8" text-anchor="middle" font-size="8.6" font-weight="bold" fill="#333" textLength="25.4" lengthAdjust="spacingAndGlyphs">CA/11</text>
<rect x="1118.4" y="969.6" width="29.2" height="10.8" stroke="#111" stroke-width="1.61" fill="#fff" />
<text x="1133.0" y="978.0" text-anchor="middle" font-size="8.6" font-weight="bold" fill="#111" stroke="#111" stroke-width="0.35" textLength="25.2" lengthAdjust="spacingAndGlyphs">CA/12</text>
<rect x="1190.3" y="968.3" width="29.4" height="11.5" stroke="#222" stroke-width="1.49" fill="#fff" />
<text x="1205.0" y="977.0" text-anchor="middle" font-size="8.6" font-weight="bold" fill="#333" textLength="25.4" lengthAdjust="spacingAndGlyphs">L/02</text>
</g>
</svg></body></html>
